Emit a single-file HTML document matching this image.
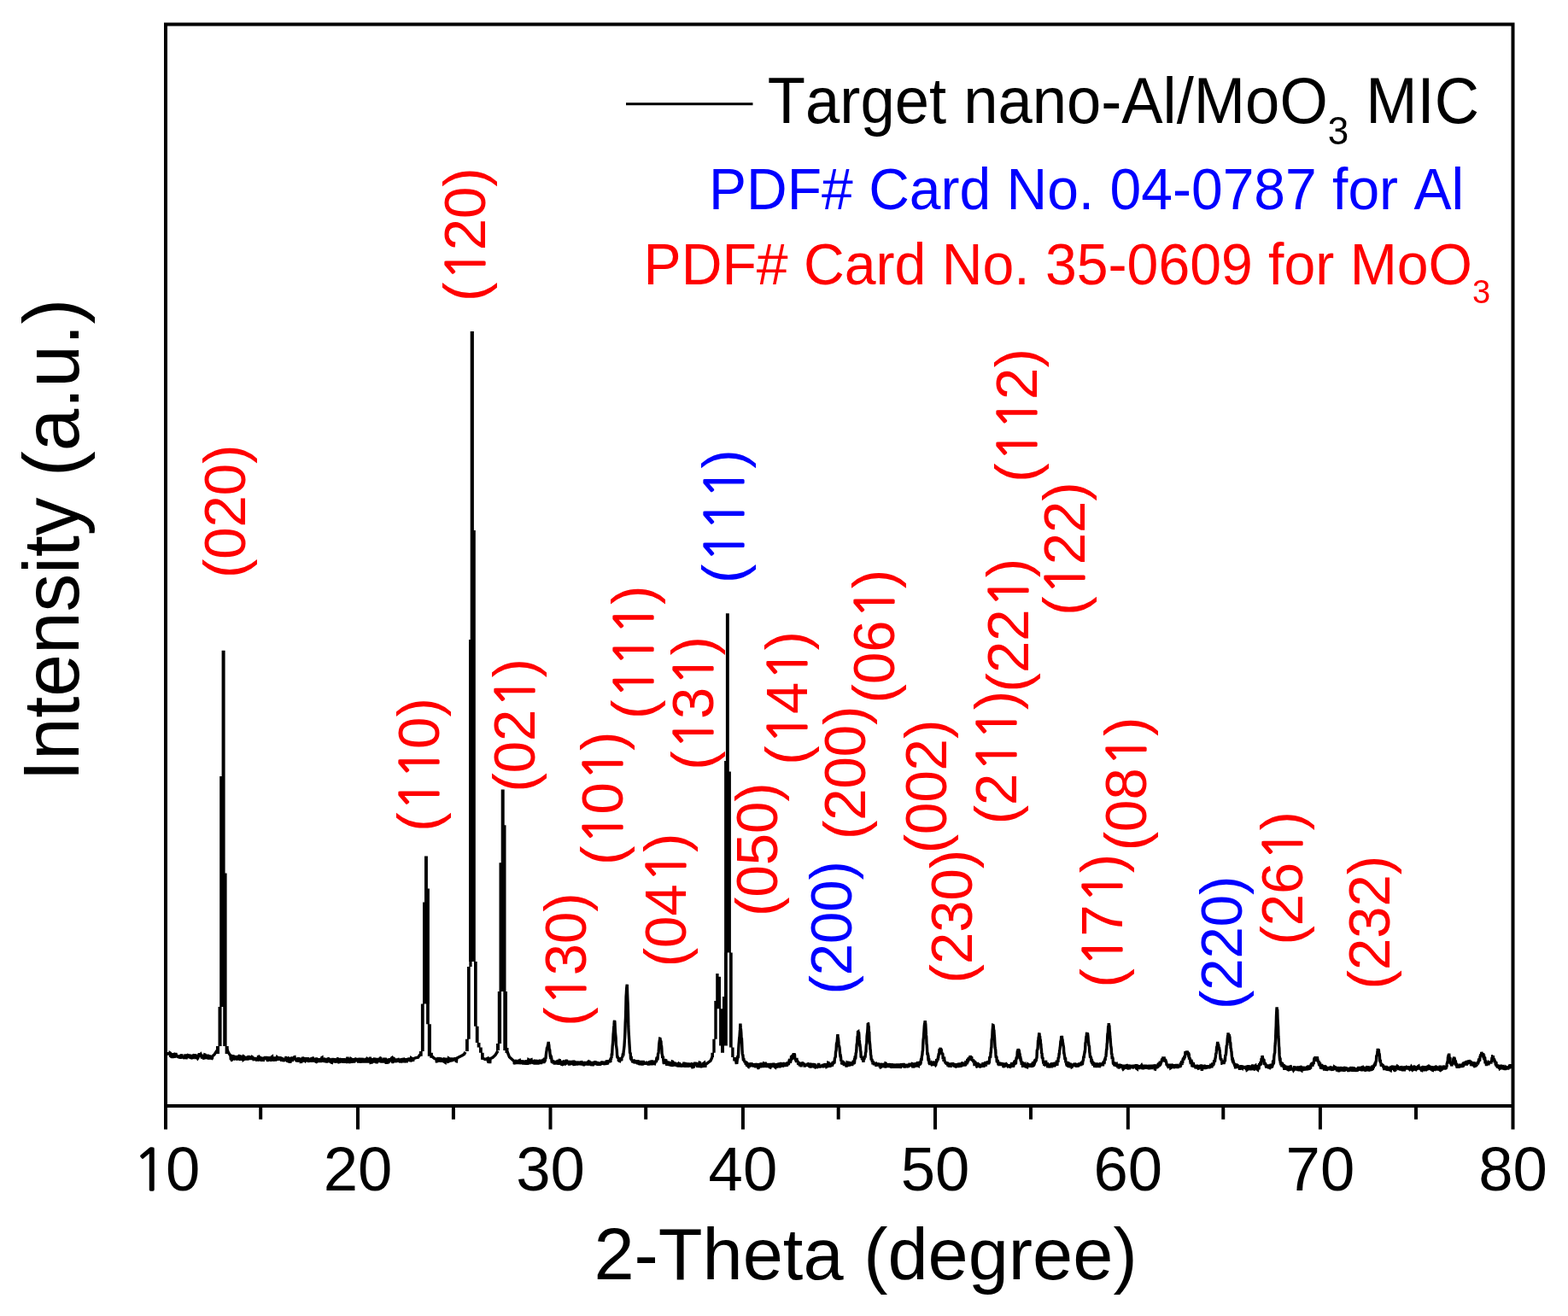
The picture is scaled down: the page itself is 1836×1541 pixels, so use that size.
<!DOCTYPE html>
<html><head><meta charset="utf-8"><style>
html,body{margin:0;padding:0;background:#fff;}
svg{display:block;}
text{font-family:"Liberation Sans",Arial,sans-serif;font-kerning:none;}
</style></head><body>
<svg width="1836" height="1541" viewBox="0 0 1836 1541">
<rect width="100%" height="100%" fill="#fff"/>
<path d="M196.0,1233.4 L196.3,1232.5 L196.6,1235.6 L196.9,1232.2 L197.2,1235.1 L197.5,1234.2 L197.8,1232.4 L198.1,1235.2 L198.4,1232.5 L198.7,1234.9 L199.0,1232.9 L199.3,1233.1 L199.6,1235.2 L199.9,1237.7 L200.2,1233.6 L200.5,1234.2 L200.8,1236.8 L201.1,1238.8 L201.4,1236.6 L201.7,1235.7 L202.0,1239.2 L202.3,1233.7 L202.6,1238.7 L202.9,1235.4 L203.2,1234.6 L203.5,1234.5 L203.8,1235.8 L204.1,1238.9 L204.4,1235.1 L204.7,1237.5 L205.0,1237.8 L205.3,1236.2 L205.6,1237.3 L205.9,1234.4 L206.2,1234.4 L206.5,1235.3 L206.8,1238.1 L207.1,1236.6 L207.4,1235.9 L207.7,1237.5 L208.0,1236.8 L208.3,1235.8 L208.6,1238.8 L208.9,1238.2 L209.2,1235.5 L209.5,1237.5 L209.8,1237.2 L210.1,1239.3 L210.4,1238.4 L210.7,1235.8 L211.0,1240.0 L211.3,1234.8 L211.6,1236.6 L211.9,1238.6 L212.2,1235.0 L212.5,1237.0 L212.8,1234.3 L213.1,1238.1 L213.4,1238.7 L213.7,1237.5 L214.0,1239.4 L214.3,1236.0 L214.6,1238.3 L214.9,1237.7 L215.2,1237.6 L215.5,1236.9 L215.8,1239.2 L216.1,1239.8 L216.4,1237.0 L216.7,1238.1 L217.0,1234.5 L217.3,1238.3 L217.6,1238.0 L217.9,1240.1 L218.2,1239.1 L218.5,1235.9 L218.8,1236.5 L219.1,1238.2 L219.4,1234.3 L219.7,1236.9 L220.0,1235.2 L220.3,1234.9 L220.6,1234.5 L220.9,1238.8 L221.2,1235.0 L221.5,1235.7 L221.8,1236.5 L222.1,1239.4 L222.4,1234.7 L222.7,1236.9 L223.0,1237.5 L223.3,1239.5 L223.6,1239.1 L223.9,1239.4 L224.2,1235.9 L224.5,1236.7 L224.8,1236.4 L225.1,1239.5 L225.4,1240.0 L225.7,1235.1 L226.0,1235.3 L226.3,1235.6 L226.6,1235.6 L226.9,1237.2 L227.2,1237.8 L227.5,1235.8 L227.8,1234.3 L228.1,1236.8 L228.4,1236.5 L228.7,1237.7 L229.0,1240.0 L229.3,1238.4 L229.6,1237.4 L229.9,1238.0 L230.2,1238.3 L230.5,1234.6 L230.8,1239.7 L231.1,1239.0 L231.4,1239.5 L231.7,1239.1 L232.0,1236.7 L232.3,1236.7 L232.6,1234.9 L232.9,1238.1 L233.2,1234.7 L233.5,1234.7 L233.8,1235.6 L234.1,1235.3 L234.4,1236.4 L234.7,1234.6 L235.0,1234.3 L235.3,1235.2 L235.6,1234.9 L235.9,1236.5 L236.2,1234.5 L236.5,1239.6 L236.8,1238.0 L237.1,1235.2 L237.4,1235.9 L237.7,1236.4 L238.0,1236.5 L238.3,1235.1 L238.6,1239.5 L238.9,1240.3 L239.2,1237.2 L239.5,1237.3 L239.8,1234.9 L240.1,1235.0 L240.4,1236.4 L240.7,1236.0 L241.0,1239.4 L241.3,1235.4 L241.6,1234.5 L241.9,1240.1 L242.2,1237.6 L242.5,1235.3 L242.8,1237.7 L243.1,1234.6 L243.4,1237.6 L243.7,1240.3 L244.0,1239.6 L244.3,1238.6 L244.6,1236.0 L244.9,1236.6 L245.2,1235.4 L245.5,1239.1 L245.8,1237.6 L246.1,1239.1 L246.4,1236.4 L246.7,1235.8 L247.0,1239.3 L247.3,1240.4 L247.6,1239.6 L247.9,1239.3 L248.2,1239.4 L248.5,1238.9 L248.8,1235.8 L249.0,1236.5 L251.0,1234.8 L253.0,1231.7 L255.5,1228.2 M265.6,1228.6 L267.5,1232.6 L270.0,1236.3 L270.3,1241.0 L270.6,1238.0 L270.9,1241.0 L271.2,1241.3 L271.5,1241.1 L271.8,1237.6 L272.1,1236.7 L272.4,1236.8 L272.7,1236.6 L273.0,1236.6 L273.3,1239.2 L273.6,1240.8 L273.9,1240.5 L274.2,1238.3 L274.5,1239.4 L274.8,1240.3 L275.1,1236.0 L275.4,1239.5 L275.7,1241.0 L276.0,1240.2 L276.3,1240.0 L276.6,1238.4 L276.9,1236.6 L277.2,1240.3 L277.5,1237.6 L277.8,1240.4 L278.1,1241.4 L278.4,1238.0 L278.7,1238.1 L279.0,1241.3 L279.3,1240.0 L279.6,1236.7 L279.9,1236.5 L280.2,1236.6 L280.5,1241.1 L280.8,1240.6 L281.1,1236.6 L281.4,1240.7 L281.7,1241.6 L282.0,1239.7 L282.3,1237.9 L282.6,1239.1 L282.9,1236.6 L283.2,1235.9 L283.5,1241.7 L283.8,1239.7 L284.1,1239.0 L284.4,1241.5 L284.7,1238.5 L285.0,1241.1 L285.3,1240.9 L285.6,1237.2 L285.9,1237.4 L286.2,1237.7 L286.5,1237.4 L286.8,1239.5 L287.1,1237.5 L287.4,1238.5 L287.7,1236.8 L288.0,1241.5 L288.3,1238.1 L288.6,1238.8 L288.9,1239.6 L289.2,1241.5 L289.5,1238.6 L289.8,1241.6 L290.1,1239.1 L290.4,1239.3 L290.7,1239.3 L291.0,1236.2 L291.3,1238.8 L291.6,1237.3 L291.9,1236.2 L292.2,1241.0 L292.5,1237.2 L292.8,1239.0 L293.1,1240.6 L293.4,1239.6 L293.7,1238.2 L294.0,1239.4 L294.3,1239.6 L294.6,1241.0 L294.9,1236.9 L295.2,1239.7 L295.5,1237.8 L295.8,1238.0 L296.1,1241.0 L296.4,1239.4 L296.7,1239.7 L297.0,1240.9 L297.3,1241.9 L297.6,1239.1 L297.9,1240.1 L298.2,1239.5 L298.5,1239.5 L298.8,1240.6 L299.1,1239.2 L299.4,1239.7 L299.7,1239.4 L300.0,1242.1 L300.3,1240.7 L300.6,1241.8 L300.9,1242.2 L301.2,1238.1 L301.5,1239.9 L301.8,1242.2 L302.1,1241.6 L302.4,1237.4 L302.7,1237.3 L303.0,1239.2 L303.3,1237.0 L303.6,1238.0 L303.9,1237.0 L304.2,1240.6 L304.5,1241.3 L304.8,1242.0 L305.1,1237.5 L305.4,1240.9 L305.7,1240.6 L306.0,1237.5 L306.3,1241.9 L306.6,1242.5 L306.9,1238.0 L307.2,1242.4 L307.5,1239.1 L307.8,1239.6 L308.1,1242.6 L308.4,1241.7 L308.7,1237.7 L309.0,1239.3 L309.3,1239.8 L309.6,1238.8 L309.9,1237.9 L310.2,1238.7 L310.5,1241.1 L310.8,1236.9 L311.1,1240.1 L311.4,1239.4 L311.7,1236.9 L312.0,1238.8 L312.3,1240.5 L312.6,1239.9 L312.9,1237.2 L313.2,1242.7 L313.5,1241.6 L313.8,1242.7 L314.1,1237.5 L314.4,1238.4 L314.7,1237.1 L315.0,1241.5 L315.3,1238.5 L315.6,1237.7 L315.9,1239.4 L316.2,1242.4 L316.5,1241.8 L316.8,1238.5 L317.1,1237.8 L317.4,1242.4 L317.7,1240.4 L318.0,1241.1 L318.3,1237.5 L318.6,1237.3 L318.9,1241.1 L319.2,1239.5 L319.5,1237.4 L319.8,1242.6 L320.1,1240.8 L320.4,1241.8 L320.7,1237.5 L321.0,1242.2 L321.3,1237.4 L321.6,1242.2 L321.9,1239.8 L322.2,1239.1 L322.5,1240.4 L322.8,1242.6 L323.1,1238.7 L323.4,1237.9 L323.7,1240.2 L324.0,1238.5 L324.3,1237.8 L324.6,1238.1 L324.9,1237.4 L325.2,1238.3 L325.5,1239.0 L325.8,1239.0 L326.1,1241.7 L326.4,1238.9 L326.7,1240.2 L327.0,1238.2 L327.3,1239.3 L327.6,1237.3 L327.9,1238.7 L328.2,1237.3 L328.5,1241.6 L328.8,1240.5 L329.1,1238.4 L329.4,1240.1 L329.7,1242.8 L330.0,1237.9 L330.3,1242.2 L330.6,1239.9 L330.9,1240.2 L331.2,1242.3 L331.5,1239.6 L331.8,1240.3 L332.1,1241.4 L332.4,1243.2 L332.7,1239.4 L333.0,1242.3 L333.3,1241.6 L333.6,1241.1 L333.9,1239.8 L334.2,1239.4 L334.5,1237.7 L334.8,1238.1 L335.1,1237.8 L335.4,1241.8 L335.7,1238.9 L336.0,1238.4 L336.3,1237.9 L336.6,1242.5 L336.9,1242.6 L337.2,1241.4 L337.5,1239.1 L337.8,1238.9 L338.1,1239.2 L338.4,1240.2 L338.7,1238.4 L339.0,1240.1 L339.3,1239.1 L339.6,1243.3 L339.9,1243.3 L340.2,1240.8 L340.5,1239.0 L340.8,1243.3 L341.1,1239.4 L341.4,1239.7 L341.7,1237.5 L342.0,1239.8 L342.3,1240.4 L342.6,1240.6 L342.9,1238.8 L343.2,1240.6 L343.5,1237.6 L343.8,1239.2 L344.1,1238.1 L344.4,1240.0 L344.7,1237.9 L345.0,1237.8 L345.3,1239.5 L345.6,1239.0 L345.9,1241.2 L346.2,1240.8 L346.5,1242.2 L346.8,1241.6 L347.1,1242.0 L347.4,1243.0 L347.7,1240.0 L348.0,1239.7 L348.3,1243.6 L348.6,1238.6 L348.9,1242.1 L349.2,1241.6 L349.5,1238.0 L349.8,1242.7 L350.1,1243.1 L350.4,1241.5 L350.7,1242.2 L351.0,1242.6 L351.3,1238.6 L351.6,1240.9 L351.9,1240.8 L352.2,1242.8 L352.5,1242.6 L352.8,1242.8 L353.1,1241.3 L353.4,1243.2 L353.7,1241.9 L354.0,1242.0 L354.3,1239.2 L354.6,1238.0 L354.9,1238.7 L355.2,1240.0 L355.5,1238.5 L355.8,1242.9 L356.1,1241.2 L356.4,1241.7 L356.7,1241.7 L357.0,1242.0 L357.3,1240.9 L357.6,1238.0 L357.9,1242.7 L358.2,1242.4 L358.5,1241.0 L358.8,1241.2 L359.1,1241.9 L359.4,1238.4 L359.7,1242.4 L360.0,1239.5 L360.3,1238.4 L360.6,1239.6 L360.9,1242.4 L361.2,1239.3 L361.5,1242.5 L361.8,1243.9 L362.1,1241.0 L362.4,1240.3 L362.7,1240.9 L363.0,1242.2 L363.3,1242.7 L363.6,1241.8 L363.9,1241.9 L364.2,1238.6 L364.5,1239.0 L364.8,1239.6 L365.1,1242.6 L365.4,1240.0 L365.7,1241.5 L366.0,1238.2 L366.3,1238.5 L366.6,1239.8 L366.9,1242.2 L367.2,1242.3 L367.5,1242.2 L367.8,1239.9 L368.1,1241.3 L368.4,1241.0 L368.7,1241.0 L369.0,1238.9 L369.3,1243.6 L369.6,1239.4 L369.9,1244.1 L370.2,1243.9 L370.5,1238.4 L370.8,1241.0 L371.1,1243.2 L371.4,1244.1 L371.7,1241.0 L372.0,1239.9 L372.3,1239.6 L372.6,1244.0 L372.9,1239.6 L373.2,1241.8 L373.5,1239.2 L373.8,1241.5 L374.1,1244.1 L374.4,1239.1 L374.7,1243.3 L375.0,1241.4 L375.3,1243.7 L375.6,1242.6 L375.9,1239.8 L376.2,1243.8 L376.5,1241.3 L376.8,1238.6 L377.1,1238.4 L377.4,1241.4 L377.7,1241.1 L378.0,1240.3 L378.3,1239.3 L378.6,1240.5 L378.9,1240.4 L379.2,1243.5 L379.5,1238.5 L379.8,1243.0 L380.1,1243.5 L380.4,1239.2 L380.7,1244.1 L381.0,1242.8 L381.3,1243.9 L381.6,1240.3 L381.9,1240.8 L382.2,1240.9 L382.5,1244.5 L382.8,1242.1 L383.1,1240.7 L383.4,1241.1 L383.7,1240.2 L384.0,1238.9 L384.3,1239.2 L384.6,1243.6 L384.9,1240.3 L385.2,1244.2 L385.5,1240.1 L385.8,1240.2 L386.1,1241.7 L386.4,1239.8 L386.7,1240.9 L387.0,1244.4 L387.3,1244.0 L387.6,1243.6 L387.9,1242.5 L388.2,1244.2 L388.5,1244.3 L388.8,1242.0 L389.1,1243.0 L389.4,1239.0 L389.7,1243.1 L390.0,1241.4 L390.3,1243.3 L390.6,1242.6 L390.9,1240.5 L391.2,1239.1 L391.5,1244.3 L391.8,1239.6 L392.1,1241.6 L392.4,1240.9 L392.7,1240.6 L393.0,1243.3 L393.3,1244.7 L393.6,1240.4 L393.9,1242.8 L394.2,1240.7 L394.5,1242.2 L394.8,1241.2 L395.1,1239.9 L395.4,1239.8 L395.7,1240.1 L396.0,1244.3 L396.3,1241.9 L396.6,1240.2 L396.9,1244.4 L397.2,1244.9 L397.5,1241.6 L397.8,1239.8 L398.1,1240.1 L398.4,1239.5 L398.7,1241.0 L399.0,1239.5 L399.3,1240.4 L399.6,1240.5 L399.9,1242.4 L400.2,1244.3 L400.5,1243.5 L400.8,1241.5 L401.1,1241.5 L401.4,1242.1 L401.7,1241.2 L402.0,1241.0 L402.3,1239.3 L402.6,1240.6 L402.9,1244.8 L403.2,1239.7 L403.5,1242.0 L403.8,1242.7 L404.1,1244.1 L404.4,1240.3 L404.7,1240.6 L405.0,1240.5 L405.3,1241.4 L405.6,1241.6 L405.9,1244.7 L406.2,1244.0 L406.5,1244.2 L406.8,1239.1 L407.1,1239.1 L407.4,1243.2 L407.7,1244.3 L408.0,1241.8 L408.3,1242.5 L408.6,1238.9 L408.9,1241.3 L409.2,1244.5 L409.5,1243.9 L409.8,1244.1 L410.1,1244.8 L410.4,1240.4 L410.7,1239.6 L411.0,1239.8 L411.3,1242.1 L411.6,1243.0 L411.9,1244.6 L412.2,1243.2 L412.5,1242.8 L412.8,1243.5 L413.1,1241.7 L413.4,1242.2 L413.7,1239.1 L414.0,1243.6 L414.3,1240.3 L414.6,1244.4 L414.9,1242.8 L415.2,1240.7 L415.5,1239.7 L415.8,1240.4 L416.1,1242.7 L416.4,1243.1 L416.7,1239.6 L417.0,1239.3 L417.3,1242.0 L417.6,1242.4 L417.9,1241.2 L418.2,1240.2 L418.5,1242.5 L418.8,1238.9 L419.1,1240.7 L419.4,1241.6 L419.7,1244.6 L420.0,1242.7 L420.3,1244.2 L420.6,1241.7 L420.9,1240.3 L421.2,1240.3 L421.5,1244.6 L421.8,1243.1 L422.1,1240.7 L422.4,1239.0 L422.7,1241.8 L423.0,1242.9 L423.3,1241.4 L423.6,1240.4 L423.9,1242.8 L424.2,1244.4 L424.5,1240.2 L424.8,1239.0 L425.1,1240.9 L425.4,1241.4 L425.7,1242.9 L426.0,1240.0 L426.3,1243.6 L426.6,1243.3 L426.9,1241.9 L427.2,1240.1 L427.5,1244.6 L427.8,1240.7 L428.1,1243.7 L428.4,1240.2 L428.7,1240.1 L429.0,1243.4 L429.3,1240.6 L429.6,1244.5 L429.9,1241.8 L430.2,1239.9 L430.5,1240.1 L430.8,1241.3 L431.1,1242.8 L431.4,1244.5 L431.7,1239.7 L432.0,1241.2 L432.3,1240.1 L432.6,1244.6 L432.9,1239.6 L433.2,1239.1 L433.5,1239.1 L433.8,1241.1 L434.1,1244.2 L434.4,1244.1 L434.7,1243.2 L435.0,1244.8 L435.3,1244.4 L435.6,1240.7 L435.9,1239.9 L436.2,1244.4 L436.5,1243.2 L436.8,1239.0 L437.1,1242.7 L437.4,1241.0 L437.7,1241.0 L438.0,1240.7 L438.3,1239.8 L438.6,1238.8 L438.9,1240.4 L439.2,1240.9 L439.5,1244.5 L439.8,1239.5 L440.1,1244.5 L440.4,1240.0 L440.7,1240.9 L441.0,1243.7 L441.3,1243.7 L441.6,1241.3 L441.9,1239.0 L442.2,1241.6 L442.5,1241.0 L442.8,1244.2 L443.1,1239.9 L443.4,1240.9 L443.7,1244.1 L444.0,1238.9 L444.3,1241.2 L444.6,1243.6 L444.9,1243.3 L445.2,1239.0 L445.5,1238.9 L445.8,1239.1 L446.1,1244.2 L446.4,1240.2 L446.7,1243.2 L447.0,1244.1 L447.3,1240.7 L447.6,1240.3 L447.9,1244.4 L448.2,1242.4 L448.5,1240.3 L448.8,1243.0 L449.1,1240.6 L449.4,1240.3 L449.7,1238.7 L450.0,1243.2 L450.3,1244.2 L450.6,1242.5 L450.9,1244.3 L451.2,1238.8 L451.5,1240.1 L451.8,1241.5 L452.1,1244.4 L452.4,1244.4 L452.7,1241.0 L453.0,1240.2 L453.3,1241.2 L453.6,1241.6 L453.9,1244.2 L454.2,1239.7 L454.5,1243.5 L454.8,1243.1 L455.1,1243.6 L455.4,1243.3 L455.7,1242.3 L456.0,1240.6 L456.3,1240.6 L456.6,1240.8 L456.9,1243.3 L457.2,1239.1 L457.5,1239.8 L457.8,1243.1 L458.1,1240.1 L458.4,1239.0 L458.7,1238.8 L459.0,1241.9 L459.3,1240.6 L459.6,1244.5 L459.9,1243.9 L460.2,1244.5 L460.5,1240.2 L460.8,1239.1 L461.1,1239.2 L461.4,1241.6 L461.7,1242.9 L462.0,1241.3 L462.3,1240.0 L462.6,1241.1 L462.9,1242.3 L463.2,1242.6 L463.5,1243.1 L463.8,1243.7 L464.1,1242.6 L464.4,1239.3 L464.7,1243.6 L465.0,1240.3 L465.3,1242.0 L465.6,1240.8 L465.9,1243.0 L466.2,1239.8 L466.5,1240.1 L466.8,1240.0 L467.1,1239.5 L467.4,1243.9 L467.7,1242.0 L468.0,1240.5 L468.3,1240.9 L468.6,1244.5 L468.9,1241.6 L469.2,1239.9 L469.5,1243.4 L469.8,1242.5 L470.1,1244.5 L470.4,1239.2 L470.7,1241.4 L471.0,1243.5 L471.3,1243.6 L471.6,1244.0 L471.9,1238.8 L472.2,1240.3 L472.5,1239.2 L472.8,1239.7 L473.1,1244.4 L473.4,1242.0 L473.7,1244.1 L474.0,1240.8 L474.3,1243.7 L474.6,1241.2 L474.9,1240.1 L475.2,1243.2 L475.5,1244.2 L475.8,1239.1 L476.1,1242.1 L476.4,1242.2 L476.7,1239.8 L477.0,1240.7 L477.3,1239.4 L477.6,1239.7 L477.9,1240.0 L478.2,1242.1 L478.5,1242.4 L478.8,1239.7 L479.1,1238.6 L479.4,1240.5 L479.7,1242.6 L480.0,1239.6 L480.3,1240.4 L480.6,1239.7 L480.9,1243.3 L481.2,1241.8 L481.5,1238.9 L481.8,1239.1 L482.1,1240.8 L482.4,1241.8 L482.7,1242.3 L483.0,1239.0 L483.3,1239.4 L483.6,1242.6 L483.9,1240.9 L484.0,1239.7 L487.0,1238.7 L489.5,1238.2 L492.0,1234.7 M506.0,1237.1 L508.5,1239.3 L511.0,1240.4 L511.3,1243.4 L511.6,1244.2 L511.9,1240.4 L512.2,1239.4 L512.5,1242.6 L512.8,1239.4 L513.1,1238.2 L513.4,1243.6 L513.7,1240.7 L514.0,1243.1 L514.3,1240.6 L514.6,1243.5 L514.9,1241.0 L515.2,1239.2 L515.5,1238.3 L515.8,1241.5 L516.1,1242.0 L516.4,1243.6 L516.7,1238.7 L517.0,1241.9 L517.3,1240.4 L517.6,1241.2 L517.9,1239.0 L518.2,1239.9 L518.5,1241.3 L518.8,1243.7 L519.1,1238.8 L519.4,1241.1 L519.7,1243.0 L520.0,1244.0 L520.3,1239.3 L520.6,1238.9 L520.9,1243.8 L521.2,1244.0 L521.5,1241.0 L521.8,1238.5 L522.1,1243.7 L522.4,1240.5 L522.7,1243.6 L523.0,1241.8 L523.3,1243.1 L523.6,1239.1 L523.9,1242.8 L524.2,1239.4 L524.5,1240.5 L524.8,1243.2 L525.1,1243.1 L525.4,1239.2 L525.7,1239.4 L526.0,1240.5 L526.3,1241.2 L526.6,1240.4 L526.9,1238.8 L527.2,1239.6 L527.5,1242.4 L527.8,1243.5 L528.1,1238.3 L528.4,1241.5 L528.7,1242.6 L529.0,1238.3 L529.3,1243.1 L529.6,1238.8 L529.9,1241.7 L530.2,1241.4 L530.5,1241.8 L530.8,1239.9 L531.1,1240.6 L531.4,1241.5 L531.7,1240.6 L532.0,1242.0 L532.3,1240.7 L532.6,1240.7 L532.9,1238.2 L533.2,1241.8 L533.5,1241.0 L533.8,1239.4 L534.1,1242.6 L534.4,1242.7 L534.7,1240.8 L535.0,1239.1 L535.0,1239.0 L538.0,1237.4 L541.0,1235.9 L543.5,1234.4 L545.0,1231.8 M565.0,1238.9 L568.0,1240.5 L571.0,1239.3 L571.3,1243.1 L571.6,1239.8 L571.9,1243.7 L572.2,1244.0 L572.5,1242.4 L572.8,1239.7 L573.1,1242.4 L573.4,1241.6 L573.7,1245.1 L574.0,1240.2 L574.0,1239.6 L577.0,1238.3 L580.0,1235.4 L583.0,1230.5 M594.0,1231.5 L596.5,1237.8 L599.0,1240.0 L602.0,1242.7 L602.3,1246.0 L602.6,1241.5 L602.9,1245.2 L603.2,1246.1 L603.5,1240.9 L603.8,1242.6 L604.1,1245.1 L604.4,1241.5 L604.7,1245.9 L605.0,1242.2 L605.3,1245.4 L605.6,1241.4 L605.9,1243.6 L606.2,1246.1 L606.5,1241.8 L606.8,1242.2 L607.1,1243.6 L607.4,1242.5 L607.7,1240.8 L608.0,1241.7 L608.3,1241.6 L608.6,1246.2 L608.9,1244.7 L609.2,1246.0 L609.5,1241.6 L609.8,1245.3 L610.1,1241.3 L610.4,1243.8 L610.7,1244.5 L611.0,1242.8 L611.3,1245.9 L611.6,1244.0 L611.9,1244.2 L612.2,1246.0 L612.5,1241.3 L612.8,1246.6 L613.1,1244.5 L613.4,1243.1 L613.7,1245.5 L614.0,1242.3 L614.3,1246.7 L614.6,1244.2 L614.9,1242.9 L615.2,1245.3 L615.5,1243.4 L615.8,1241.8 L616.1,1245.2 L616.4,1241.0 L616.7,1245.7 L617.0,1242.3 L617.3,1244.6 L617.6,1246.7 L617.9,1244.3 L618.2,1244.8 L618.5,1242.7 L618.8,1240.8 L619.1,1241.0 L619.4,1241.7 L619.7,1244.5 L620.0,1243.4 L620.3,1243.9 L620.6,1246.2 L620.9,1241.6 L621.2,1242.2 L621.5,1244.7 L621.8,1240.9 L622.1,1240.8 L622.4,1242.9 L622.7,1241.5 L623.0,1243.0 L623.3,1242.2 L623.6,1244.3 L623.9,1244.4 L624.2,1242.1 L624.5,1244.6 L624.8,1243.7 L625.1,1241.6 L625.4,1246.4 L625.7,1242.3 L626.0,1241.7 L626.3,1241.4 L626.6,1244.7 L626.9,1246.0 L627.2,1245.5 L627.5,1243.2 L627.8,1242.4 L628.1,1240.9 L628.4,1244.7 L628.7,1244.2 L629.0,1242.9 L629.3,1244.6 L629.6,1243.4 L629.9,1246.4 L630.2,1245.1 L630.5,1242.2 L630.8,1246.1 L631.1,1241.0 L631.4,1243.9 L631.7,1243.1 L632.0,1242.1 L632.3,1241.0 L632.6,1245.3 L632.9,1240.6 L633.2,1243.8 L633.5,1246.1 L633.8,1241.3 L634.1,1241.6 L634.4,1244.0 L634.7,1243.3 L635.0,1244.0 L635.3,1245.0 L635.6,1241.1 L635.9,1241.7 L636.2,1241.6 L636.5,1239.9 L636.8,1244.7 L637.1,1243.8 L637.4,1243.1 L637.7,1238.5 L638.0,1243.0 L638.3,1241.8 L638.6,1239.3 L638.9,1239.9 L639.2,1237.0 L639.5,1234.1 L639.8,1231.7 L640.1,1230.5 L640.4,1227.2 L640.7,1226.7 L641.0,1227.0 L641.3,1224.7 L641.6,1224.1 L641.9,1222.6 L642.2,1220.0 L642.5,1222.8 L642.8,1223.8 L643.1,1228.0 L643.4,1228.6 L643.7,1229.3 L644.0,1233.7 L644.3,1237.5 L644.6,1234.7 L644.9,1240.1 L645.2,1236.1 L645.5,1238.5 L645.8,1239.1 L646.1,1242.8 L646.4,1244.4 L646.7,1243.6 L647.0,1241.4 L647.3,1245.0 L647.6,1241.9 L647.9,1241.5 L648.2,1245.6 L648.5,1244.1 L648.8,1244.6 L649.1,1244.5 L649.4,1246.5 L649.7,1243.5 L650.0,1245.8 L650.3,1245.0 L650.6,1246.0 L650.9,1243.5 L651.2,1245.3 L651.5,1244.4 L651.8,1242.9 L652.1,1242.3 L652.4,1244.8 L652.7,1241.6 L653.0,1246.6 L653.3,1242.1 L653.6,1241.4 L653.9,1241.9 L654.2,1246.8 L654.5,1243.4 L654.8,1242.2 L655.1,1241.5 L655.4,1241.6 L655.7,1245.5 L656.0,1245.2 L656.3,1245.6 L656.6,1245.9 L656.9,1241.8 L657.2,1245.0 L657.5,1243.7 L657.8,1246.4 L658.1,1246.4 L658.4,1246.9 L658.7,1241.9 L659.0,1246.8 L659.3,1247.0 L659.6,1247.2 L659.9,1242.2 L660.2,1242.8 L660.5,1242.3 L660.8,1241.8 L661.1,1246.7 L661.4,1246.5 L661.7,1245.5 L662.0,1246.6 L662.3,1245.5 L662.6,1243.4 L662.9,1242.3 L663.2,1242.3 L663.5,1246.3 L663.8,1242.9 L664.1,1243.6 L664.4,1244.3 L664.7,1241.9 L665.0,1243.3 L665.3,1243.5 L665.6,1246.1 L665.9,1244.0 L666.2,1243.7 L666.5,1247.6 L666.8,1244.8 L667.1,1246.9 L667.4,1245.5 L667.7,1242.0 L668.0,1244.3 L668.3,1244.5 L668.6,1246.5 L668.9,1243.9 L669.2,1246.1 L669.5,1245.1 L669.8,1243.2 L670.1,1247.1 L670.4,1242.4 L670.7,1246.8 L671.0,1242.9 L671.3,1241.9 L671.6,1243.1 L671.9,1246.5 L672.2,1247.8 L672.5,1242.0 L672.8,1244.9 L673.1,1244.9 L673.4,1246.7 L673.7,1243.1 L674.0,1244.9 L674.3,1244.1 L674.6,1247.0 L674.9,1243.6 L675.2,1247.7 L675.5,1243.7 L675.8,1243.3 L676.1,1246.2 L676.4,1245.0 L676.7,1242.7 L677.0,1245.9 L677.3,1242.5 L677.6,1246.8 L677.9,1246.2 L678.2,1246.8 L678.5,1245.8 L678.8,1244.2 L679.1,1244.5 L679.4,1244.5 L679.7,1247.4 L680.0,1242.6 L680.3,1247.4 L680.6,1242.3 L680.9,1243.3 L681.2,1243.7 L681.5,1247.5 L681.8,1245.1 L682.1,1244.4 L682.4,1247.4 L682.7,1243.5 L683.0,1244.9 L683.3,1245.3 L683.6,1246.7 L683.9,1246.7 L684.2,1246.0 L684.5,1244.3 L684.8,1244.1 L685.1,1243.1 L685.4,1247.2 L685.7,1246.2 L686.0,1246.7 L686.3,1243.2 L686.6,1244.8 L686.9,1246.9 L687.2,1245.7 L687.5,1243.0 L687.8,1245.0 L688.1,1247.5 L688.4,1243.7 L688.7,1243.4 L689.0,1244.0 L689.3,1246.5 L689.6,1247.3 L689.9,1243.2 L690.2,1243.2 L690.5,1243.7 L690.8,1244.2 L691.1,1245.4 L691.4,1243.2 L691.7,1244.2 L692.0,1243.4 L692.3,1248.1 L692.6,1246.6 L692.9,1242.8 L693.2,1248.0 L693.5,1242.8 L693.8,1244.5 L694.1,1248.1 L694.4,1247.0 L694.7,1246.6 L695.0,1244.8 L695.3,1243.4 L695.6,1246.0 L695.9,1242.8 L696.2,1243.4 L696.5,1244.5 L696.8,1242.3 L697.1,1244.5 L697.4,1246.9 L697.7,1246.3 L698.0,1245.1 L698.3,1245.9 L698.6,1244.9 L698.9,1242.9 L699.2,1245.7 L699.5,1244.5 L699.8,1246.5 L700.1,1247.5 L700.4,1244.6 L700.7,1245.5 L701.0,1246.5 L701.3,1244.5 L701.6,1243.4 L701.9,1246.3 L702.2,1247.2 L702.5,1246.6 L702.8,1246.1 L703.1,1247.0 L703.4,1246.0 L703.7,1245.7 L704.0,1244.6 L704.3,1243.7 L704.6,1245.6 L704.9,1242.4 L705.2,1244.3 L705.5,1246.5 L705.8,1246.0 L706.1,1245.5 L706.4,1243.2 L706.7,1244.2 L707.0,1244.4 L707.3,1245.3 L707.6,1244.0 L707.9,1245.6 L708.2,1247.1 L708.5,1242.5 L708.8,1245.3 L709.1,1246.0 L709.4,1243.6 L709.7,1244.1 L710.0,1247.0 L710.3,1241.3 L710.6,1244.3 L710.9,1241.9 L711.2,1245.5 L711.5,1246.4 L711.8,1243.7 L712.1,1241.1 L712.4,1243.8 L712.7,1243.4 L713.0,1244.3 L713.3,1242.9 L713.6,1243.4 L713.9,1244.3 L714.2,1242.1 L714.5,1241.0 L714.8,1243.8 L715.1,1238.8 L715.4,1240.8 L715.7,1238.1 L716.0,1239.0 L716.3,1233.5 L716.6,1236.5 L716.9,1230.1 L717.2,1225.0 L717.5,1222.3 L717.8,1218.5 L718.1,1211.1 L718.4,1208.3 L718.7,1203.3 L719.0,1200.7 L719.3,1196.1 L719.6,1195.1 L719.9,1196.7 L720.2,1203.5 L720.5,1209.5 L720.8,1212.2 L721.1,1215.4 L721.4,1223.6 L721.7,1225.2 L722.0,1227.6 L722.3,1229.9 L722.6,1236.0 L722.9,1237.9 L723.2,1238.2 L723.5,1238.2 L723.8,1239.5 L724.1,1238.0 L724.4,1242.8 L724.7,1239.4 L725.0,1241.3 L725.3,1242.5 L725.6,1242.6 L725.9,1240.5 L726.2,1239.5 L726.5,1240.9 L726.8,1238.3 L727.1,1242.4 L727.4,1239.3 L727.7,1242.0 L728.0,1238.2 L728.3,1238.5 L728.6,1237.3 L728.9,1237.7 L729.2,1235.5 L729.5,1233.4 L729.8,1236.5 L730.1,1232.2 L730.4,1229.8 L730.7,1227.2 L731.0,1224.6 L731.3,1219.6 L731.6,1215.0 L731.9,1208.0 L732.2,1197.9 L732.5,1192.0 L732.8,1181.6 L733.1,1167.0 L733.4,1163.0 L733.7,1157.4 L734.0,1154.5 L734.3,1152.8 L734.6,1163.1 L734.9,1170.6 L735.2,1176.7 L735.5,1186.7 L735.8,1201.7 L736.1,1208.2 L736.4,1212.9 L736.7,1217.9 L737.0,1222.9 L737.3,1227.3 L737.6,1233.4 L737.9,1233.1 L738.2,1233.6 L738.5,1239.5 L738.8,1239.8 L739.1,1236.9 L739.4,1241.9 L739.7,1240.8 L740.0,1242.3 L740.3,1242.0 L740.6,1243.7 L740.9,1243.4 L741.2,1244.0 L741.5,1240.4 L741.8,1243.6 L742.1,1242.8 L742.4,1244.2 L742.7,1242.6 L743.0,1245.4 L743.3,1243.6 L743.6,1241.9 L743.9,1241.9 L744.2,1241.4 L744.5,1243.6 L744.8,1241.1 L745.1,1243.6 L745.4,1241.8 L745.7,1243.9 L746.0,1244.0 L746.3,1244.3 L746.6,1246.3 L746.9,1241.2 L747.2,1246.3 L747.5,1244.1 L747.8,1244.7 L748.1,1245.4 L748.4,1246.4 L748.7,1243.7 L749.0,1244.0 L749.3,1247.3 L749.6,1242.0 L749.9,1245.4 L750.2,1245.4 L750.5,1241.8 L750.8,1245.3 L751.1,1245.7 L751.4,1247.2 L751.7,1243.6 L752.0,1247.6 L752.3,1244.8 L752.6,1244.6 L752.9,1247.1 L753.2,1241.9 L753.5,1246.1 L753.8,1245.5 L754.1,1243.8 L754.4,1246.9 L754.7,1244.0 L755.0,1244.6 L755.3,1244.9 L755.6,1246.4 L755.9,1243.1 L756.2,1244.4 L756.5,1244.3 L756.8,1245.1 L757.1,1246.8 L757.4,1243.6 L757.7,1246.8 L758.0,1244.2 L758.3,1244.8 L758.6,1243.4 L758.9,1244.8 L759.2,1247.6 L759.5,1245.7 L759.8,1246.5 L760.1,1243.7 L760.4,1243.6 L760.7,1243.5 L761.0,1245.3 L761.3,1245.5 L761.6,1246.4 L761.9,1242.0 L762.2,1246.0 L762.5,1247.0 L762.8,1244.9 L763.1,1241.9 L763.4,1243.4 L763.7,1241.6 L764.0,1242.7 L764.3,1247.0 L764.6,1245.1 L764.9,1245.4 L765.2,1246.1 L765.5,1246.8 L765.8,1244.9 L766.1,1244.8 L766.4,1244.8 L766.7,1245.1 L767.0,1244.3 L767.3,1244.7 L767.6,1241.6 L767.9,1244.1 L768.2,1242.5 L768.5,1243.9 L768.8,1239.4 L769.1,1239.2 L769.4,1237.5 L769.7,1240.8 L770.0,1240.3 L770.3,1237.1 L770.6,1233.5 L770.9,1233.9 L771.2,1231.2 L771.5,1227.1 L771.8,1222.4 L772.1,1220.0 L772.4,1218.4 L772.7,1216.2 L773.0,1216.3 L773.3,1218.1 L773.6,1221.5 L773.9,1218.5 L774.2,1224.4 L774.5,1224.1 L774.8,1227.3 L775.1,1234.0 L775.4,1234.9 L775.7,1239.0 L776.0,1237.8 L776.3,1236.6 L776.6,1239.9 L776.9,1242.1 L777.2,1244.8 L777.5,1245.7 L777.8,1243.1 L778.1,1243.0 L778.4,1241.5 L778.7,1245.0 L779.0,1242.6 L779.3,1242.4 L779.6,1241.7 L779.9,1241.8 L780.2,1246.0 L780.5,1242.7 L780.8,1247.9 L781.1,1242.7 L781.4,1247.4 L781.7,1243.1 L782.0,1242.5 L782.3,1246.7 L782.6,1243.9 L782.9,1246.9 L783.2,1243.7 L783.5,1242.9 L783.8,1247.3 L784.1,1247.0 L784.4,1247.9 L784.7,1247.2 L785.0,1243.3 L785.3,1246.6 L785.6,1247.2 L785.9,1245.7 L786.2,1248.6 L786.5,1244.5 L786.8,1248.8 L787.1,1247.4 L787.4,1243.1 L787.7,1243.2 L788.0,1247.0 L788.3,1248.1 L788.6,1243.6 L788.9,1245.1 L789.2,1247.6 L789.5,1244.2 L789.8,1248.4 L790.1,1246.2 L790.4,1243.7 L790.7,1245.5 L791.0,1246.8 L791.3,1246.0 L791.6,1247.4 L791.9,1244.3 L792.2,1248.2 L792.5,1245.6 L792.8,1247.3 L793.1,1247.2 L793.4,1246.0 L793.7,1245.8 L794.0,1248.2 L794.3,1249.2 L794.6,1248.2 L794.9,1247.0 L795.2,1245.3 L795.5,1244.0 L795.8,1249.4 L796.1,1247.8 L796.4,1248.6 L796.7,1245.6 L797.0,1247.3 L797.3,1249.5 L797.6,1248.7 L797.9,1247.3 L798.2,1245.6 L798.5,1246.3 L798.8,1249.1 L799.1,1246.0 L799.4,1247.9 L799.7,1247.4 L800.0,1249.2 L800.3,1248.7 L800.6,1245.5 L800.9,1243.8 L801.2,1245.4 L801.5,1246.4 L801.8,1247.4 L802.1,1248.7 L802.4,1249.2 L802.7,1244.1 L803.0,1248.9 L803.3,1248.7 L803.6,1249.1 L803.9,1247.3 L804.2,1245.5 L804.5,1249.0 L804.8,1248.7 L805.1,1248.0 L805.4,1249.4 L805.7,1246.0 L806.0,1244.4 L806.3,1247.2 L806.6,1248.7 L806.9,1245.1 L807.2,1248.4 L807.5,1249.5 L807.8,1245.3 L808.1,1247.6 L808.4,1248.0 L808.7,1246.7 L809.0,1245.2 L809.3,1245.5 L809.6,1248.5 L809.9,1248.7 L810.2,1246.7 L810.5,1244.5 L810.8,1248.8 L811.1,1248.6 L811.4,1245.4 L811.7,1247.4 L812.0,1249.4 L812.3,1249.3 L812.6,1247.1 L812.9,1246.8 L813.2,1247.5 L813.5,1245.1 L813.8,1245.1 L814.1,1245.1 L814.4,1248.2 L814.7,1246.2 L815.0,1247.4 L815.3,1246.4 L815.6,1247.1 L815.9,1244.9 L816.2,1244.3 L816.5,1250.0 L816.8,1246.3 L817.1,1244.7 L817.4,1247.8 L817.7,1248.8 L818.0,1245.0 L818.3,1247.6 L818.6,1246.1 L818.9,1247.2 L819.2,1244.2 L819.5,1244.3 L819.8,1250.0 L820.1,1249.3 L820.4,1247.0 L820.7,1247.5 L821.0,1245.6 L821.3,1248.7 L821.6,1246.6 L821.9,1249.8 L822.2,1248.7 L822.5,1249.0 L822.8,1249.9 L823.1,1245.6 L823.4,1244.3 L823.7,1245.3 L824.0,1245.2 L824.3,1244.6 L824.6,1244.4 L824.9,1247.5 L825.2,1249.3 L825.5,1246.9 L825.8,1249.8 L826.0,1246.7 L829.0,1244.3 L832.0,1242.2 L834.0,1237.8 M860.0,1240.4 L861.5,1239.7 L861.8,1243.0 L862.1,1244.5 L862.4,1244.5 L862.7,1245.8 L863.0,1243.3 L863.3,1240.6 L863.6,1239.6 L863.9,1236.1 L864.2,1238.7 L864.5,1236.1 L864.8,1228.1 L865.1,1223.1 L865.4,1219.8 L865.7,1215.5 L866.0,1213.8 L866.3,1209.1 L866.6,1205.2 L866.9,1198.6 L867.2,1203.4 L867.5,1205.4 L867.8,1209.1 L868.1,1215.9 L868.4,1215.4 L868.7,1220.8 L869.0,1228.8 L869.3,1233.7 L869.6,1235.3 L869.9,1235.6 L870.2,1239.4 L870.5,1242.0 L870.8,1239.3 L871.1,1241.6 L871.4,1241.9 L871.7,1241.6 L872.0,1244.2 L872.3,1242.7 L872.6,1243.4 L872.9,1243.1 L873.2,1246.5 L873.5,1242.7 L873.8,1247.1 L874.1,1244.1 L874.4,1243.3 L874.7,1248.8 L875.0,1244.6 L875.3,1249.0 L875.6,1248.7 L875.9,1248.9 L876.2,1244.5 L876.5,1246.4 L876.8,1244.3 L877.1,1249.4 L877.4,1248.9 L877.7,1247.7 L878.0,1246.7 L878.3,1246.0 L878.6,1249.0 L878.9,1246.9 L879.2,1247.9 L879.5,1245.0 L879.8,1245.5 L880.1,1244.5 L880.4,1248.5 L880.7,1247.5 L881.0,1245.1 L881.3,1249.5 L881.6,1245.9 L881.9,1246.8 L882.2,1245.3 L882.5,1246.0 L882.8,1249.4 L883.1,1246.4 L883.4,1245.4 L883.7,1247.3 L884.0,1246.3 L884.3,1249.8 L884.6,1245.1 L884.9,1250.3 L885.2,1244.8 L885.5,1249.8 L885.8,1248.5 L886.1,1245.8 L886.4,1247.4 L886.7,1246.2 L887.0,1246.1 L887.3,1245.7 L887.6,1246.7 L887.9,1250.5 L888.2,1250.5 L888.5,1250.1 L888.8,1245.2 L889.1,1246.3 L889.4,1250.0 L889.7,1244.9 L890.0,1249.0 L890.3,1246.4 L890.6,1250.5 L890.9,1244.7 L891.2,1249.5 L891.5,1246.7 L891.8,1245.5 L892.1,1244.6 L892.4,1249.6 L892.7,1247.8 L893.0,1245.8 L893.3,1247.3 L893.6,1250.1 L893.9,1246.0 L894.2,1248.1 L894.5,1245.5 L894.8,1245.7 L895.1,1249.3 L895.4,1248.9 L895.7,1245.9 L896.0,1245.2 L896.3,1245.2 L896.6,1248.3 L896.9,1247.7 L897.2,1246.3 L897.5,1245.9 L897.8,1248.4 L898.1,1248.9 L898.4,1249.6 L898.7,1248.2 L899.0,1245.9 L899.3,1245.1 L899.6,1249.1 L899.9,1247.2 L900.2,1249.0 L900.5,1245.0 L900.8,1249.6 L901.1,1246.7 L901.4,1249.8 L901.7,1249.9 L902.0,1247.7 L902.3,1244.8 L902.6,1250.2 L902.9,1247.6 L903.2,1249.9 L903.5,1246.3 L903.8,1245.8 L904.1,1249.7 L904.4,1246.9 L904.7,1245.7 L905.0,1246.9 L905.3,1248.3 L905.6,1244.7 L905.9,1247.8 L906.2,1247.3 L906.5,1247.8 L906.8,1245.4 L907.1,1248.9 L907.4,1249.6 L907.7,1249.8 L908.0,1246.6 L908.3,1248.9 L908.6,1246.9 L908.9,1249.1 L909.2,1245.0 L909.5,1249.8 L909.8,1250.3 L910.1,1247.6 L910.4,1247.7 L910.7,1247.8 L911.0,1247.8 L911.3,1244.7 L911.6,1250.4 L911.9,1245.9 L912.2,1245.6 L912.5,1245.1 L912.8,1246.0 L913.1,1249.4 L913.4,1244.6 L913.7,1245.0 L914.0,1248.6 L914.3,1245.6 L914.6,1244.5 L914.9,1248.0 L915.2,1247.8 L915.5,1247.5 L915.8,1248.5 L916.1,1244.9 L916.4,1249.5 L916.7,1248.5 L917.0,1244.5 L917.3,1244.9 L917.6,1247.1 L917.9,1247.1 L918.2,1245.7 L918.5,1244.7 L918.8,1246.3 L919.1,1244.7 L919.4,1247.3 L919.7,1248.8 L920.0,1244.5 L920.3,1246.9 L920.6,1247.8 L920.9,1244.2 L921.2,1248.0 L921.5,1248.5 L921.8,1245.0 L922.1,1245.0 L922.4,1247.3 L922.7,1245.1 L923.0,1244.0 L923.3,1247.0 L923.6,1245.6 L923.9,1242.6 L924.2,1241.6 L924.5,1241.7 L924.8,1241.8 L925.1,1244.5 L925.4,1242.9 L925.7,1243.0 L926.0,1241.8 L926.3,1241.4 L926.6,1236.0 L926.9,1238.2 L927.2,1240.3 L927.5,1239.6 L927.8,1235.1 L928.1,1235.7 L928.4,1236.7 L928.7,1234.9 L929.0,1235.9 L929.3,1233.1 L929.6,1235.5 L929.9,1236.2 L930.2,1233.7 L930.5,1234.9 L930.8,1240.4 L931.1,1239.8 L931.4,1241.3 L931.7,1240.1 L932.0,1241.8 L932.3,1242.8 L932.6,1243.4 L932.9,1238.9 L933.2,1243.0 L933.5,1241.3 L933.8,1244.2 L934.1,1242.2 L934.4,1244.2 L934.7,1246.9 L935.0,1245.4 L935.3,1243.5 L935.6,1245.4 L935.9,1245.1 L936.2,1248.4 L936.5,1244.6 L936.8,1244.9 L937.1,1247.1 L937.4,1244.1 L937.7,1247.1 L938.0,1249.3 L938.3,1246.8 L938.6,1245.4 L938.9,1246.7 L939.2,1247.1 L939.5,1244.9 L939.8,1244.8 L940.1,1244.9 L940.4,1245.9 L940.7,1246.6 L941.0,1246.0 L941.3,1245.7 L941.6,1244.8 L941.9,1247.6 L942.2,1249.4 L942.5,1248.0 L942.8,1247.8 L943.1,1248.3 L943.4,1245.7 L943.7,1248.7 L944.0,1247.2 L944.3,1247.8 L944.6,1248.2 L944.9,1247.3 L945.2,1246.4 L945.5,1246.0 L945.8,1245.9 L946.1,1247.7 L946.4,1246.9 L946.7,1248.1 L947.0,1244.7 L947.3,1246.7 L947.6,1249.8 L947.9,1246.1 L948.2,1248.0 L948.5,1247.6 L948.8,1246.4 L949.1,1250.6 L949.4,1246.5 L949.7,1249.3 L950.0,1245.6 L950.3,1245.1 L950.6,1249.9 L950.9,1247.3 L951.2,1245.1 L951.5,1247.0 L951.8,1247.4 L952.1,1249.1 L952.4,1245.4 L952.7,1246.1 L953.0,1250.5 L953.3,1249.2 L953.6,1245.7 L953.9,1246.8 L954.2,1246.9 L954.5,1248.8 L954.8,1248.4 L955.1,1249.8 L955.4,1249.7 L955.7,1247.8 L956.0,1249.2 L956.3,1249.2 L956.6,1249.3 L956.9,1247.6 L957.2,1249.4 L957.5,1249.0 L957.8,1250.2 L958.1,1245.5 L958.4,1250.0 L958.7,1244.8 L959.0,1249.3 L959.3,1248.2 L959.6,1247.7 L959.9,1250.5 L960.2,1248.1 L960.5,1247.2 L960.8,1249.4 L961.1,1249.9 L961.4,1248.3 L961.7,1247.0 L962.0,1247.4 L962.3,1247.4 L962.6,1249.0 L962.9,1246.4 L963.2,1247.0 L963.5,1248.0 L963.8,1246.9 L964.1,1246.5 L964.4,1249.3 L964.7,1249.7 L965.0,1247.6 L965.3,1247.2 L965.6,1245.7 L965.9,1246.4 L966.2,1245.4 L966.5,1248.0 L966.8,1248.0 L967.1,1245.0 L967.4,1250.0 L967.7,1246.4 L968.0,1249.5 L968.3,1249.4 L968.6,1250.1 L968.9,1245.5 L969.2,1246.8 L969.5,1249.7 L969.8,1244.3 L970.1,1244.4 L970.4,1247.5 L970.7,1247.1 L971.0,1249.5 L971.3,1248.6 L971.6,1247.1 L971.9,1249.8 L972.2,1246.9 L972.5,1246.8 L972.8,1247.7 L973.1,1245.8 L973.4,1245.5 L973.7,1246.8 L974.0,1245.2 L974.3,1248.6 L974.6,1246.8 L974.9,1245.7 L975.2,1242.8 L975.5,1244.2 L975.8,1243.9 L976.1,1244.4 L976.4,1243.9 L976.7,1245.0 L977.0,1244.5 L977.3,1240.5 L977.6,1238.8 L977.9,1238.3 L978.2,1238.5 L978.5,1232.3 L978.8,1230.9 L979.1,1229.7 L979.4,1222.9 L979.7,1220.7 L980.0,1221.7 L980.3,1218.2 L980.6,1214.5 L980.9,1211.1 L981.2,1216.0 L981.5,1216.1 L981.8,1219.0 L982.1,1222.7 L982.4,1225.1 L982.7,1225.3 L983.0,1226.7 L983.3,1230.2 L983.6,1234.0 L983.9,1236.2 L984.2,1236.1 L984.5,1237.7 L984.8,1241.6 L985.1,1242.5 L985.4,1241.9 L985.7,1246.4 L986.0,1244.8 L986.3,1241.7 L986.6,1244.3 L986.9,1246.8 L987.2,1244.2 L987.5,1246.7 L987.8,1242.7 L988.1,1244.7 L988.4,1248.0 L988.7,1246.6 L989.0,1247.2 L989.3,1244.4 L989.6,1246.3 L989.9,1246.7 L990.2,1245.0 L990.5,1247.4 L990.8,1246.7 L991.1,1249.5 L991.4,1247.0 L991.7,1246.0 L992.0,1244.3 L992.3,1244.5 L992.6,1248.2 L992.9,1244.2 L993.2,1244.2 L993.5,1244.6 L993.8,1246.7 L994.1,1248.5 L994.4,1247.2 L994.7,1248.3 L995.0,1243.8 L995.3,1243.4 L995.6,1247.9 L995.9,1245.2 L996.2,1247.5 L996.5,1245.2 L996.8,1244.0 L997.1,1244.5 L997.4,1243.4 L997.7,1248.0 L998.0,1246.0 L998.3,1244.4 L998.6,1244.8 L998.9,1244.1 L999.2,1241.8 L999.5,1246.5 L999.8,1244.2 L1000.1,1245.9 L1000.4,1242.1 L1000.7,1242.3 L1001.0,1239.1 L1001.3,1236.5 L1001.6,1240.3 L1001.9,1237.9 L1002.2,1232.5 L1002.5,1233.4 L1002.8,1230.0 L1003.1,1223.7 L1003.4,1222.1 L1003.7,1220.7 L1004.0,1214.6 L1004.3,1214.5 L1004.6,1208.1 L1004.9,1207.9 L1005.2,1210.1 L1005.5,1208.5 L1005.8,1211.3 L1006.1,1217.7 L1006.4,1218.7 L1006.7,1223.9 L1007.0,1223.9 L1007.3,1226.5 L1007.6,1230.3 L1007.9,1231.7 L1008.2,1238.4 L1008.5,1236.0 L1008.8,1238.9 L1009.1,1237.3 L1009.4,1240.7 L1009.7,1240.4 L1010.0,1240.9 L1010.3,1239.2 L1010.6,1239.7 L1010.9,1243.9 L1011.2,1241.0 L1011.5,1240.2 L1011.8,1239.5 L1012.1,1239.5 L1012.4,1238.5 L1012.7,1236.2 L1013.0,1238.7 L1013.3,1235.0 L1013.6,1231.8 L1013.9,1232.4 L1014.2,1225.6 L1014.5,1223.0 L1014.8,1222.2 L1015.1,1213.4 L1015.4,1210.7 L1015.7,1208.6 L1016.0,1204.6 L1016.3,1198.2 L1016.6,1198.4 L1016.9,1201.6 L1017.2,1202.2 L1017.5,1209.6 L1017.8,1209.6 L1018.1,1218.8 L1018.4,1220.7 L1018.7,1223.3 L1019.0,1228.5 L1019.3,1229.8 L1019.6,1236.0 L1019.9,1235.6 L1020.2,1241.3 L1020.5,1240.9 L1020.8,1240.8 L1021.1,1241.0 L1021.4,1243.9 L1021.7,1242.1 L1022.0,1246.5 L1022.3,1242.4 L1022.6,1245.0 L1022.9,1245.5 L1023.2,1244.1 L1023.5,1247.3 L1023.8,1245.2 L1024.1,1247.0 L1024.4,1246.6 L1024.7,1245.2 L1025.0,1245.8 L1025.3,1244.1 L1025.6,1244.7 L1025.9,1248.8 L1026.2,1245.7 L1026.5,1247.9 L1026.8,1244.6 L1027.1,1247.4 L1027.4,1246.3 L1027.7,1247.1 L1028.0,1246.0 L1028.3,1244.6 L1028.6,1246.2 L1028.9,1245.7 L1029.2,1245.1 L1029.5,1248.7 L1029.8,1246.1 L1030.1,1246.9 L1030.4,1250.0 L1030.7,1249.2 L1031.0,1249.9 L1031.3,1249.8 L1031.6,1245.4 L1031.9,1246.3 L1032.2,1244.8 L1032.5,1248.8 L1032.8,1248.7 L1033.1,1246.8 L1033.4,1247.2 L1033.7,1248.7 L1034.0,1249.0 L1034.3,1246.3 L1034.6,1249.9 L1034.9,1246.9 L1035.2,1248.6 L1035.5,1245.9 L1035.8,1245.6 L1036.1,1250.3 L1036.4,1249.3 L1036.7,1249.2 L1037.0,1245.1 L1037.3,1245.2 L1037.6,1245.9 L1037.9,1246.1 L1038.2,1246.8 L1038.5,1247.2 L1038.8,1245.2 L1039.1,1246.8 L1039.4,1248.8 L1039.7,1246.1 L1040.0,1250.0 L1040.3,1248.4 L1040.6,1249.3 L1040.9,1246.5 L1041.2,1247.6 L1041.5,1249.1 L1041.8,1247.1 L1042.1,1245.0 L1042.4,1250.0 L1042.7,1249.7 L1043.0,1246.8 L1043.3,1245.3 L1043.6,1250.2 L1043.9,1248.7 L1044.2,1245.3 L1044.5,1246.5 L1044.8,1245.7 L1045.1,1249.8 L1045.4,1246.3 L1045.7,1250.6 L1046.0,1249.6 L1046.3,1245.6 L1046.6,1249.3 L1046.9,1247.5 L1047.2,1249.6 L1047.5,1250.1 L1047.8,1246.8 L1048.1,1245.6 L1048.4,1250.8 L1048.7,1247.6 L1049.0,1250.7 L1049.3,1249.3 L1049.6,1249.5 L1049.9,1250.1 L1050.2,1248.9 L1050.5,1247.8 L1050.8,1245.4 L1051.1,1249.3 L1051.4,1247.7 L1051.7,1248.2 L1052.0,1250.7 L1052.3,1245.9 L1052.6,1249.7 L1052.9,1245.3 L1053.2,1249.3 L1053.5,1249.9 L1053.8,1246.6 L1054.1,1248.3 L1054.4,1250.9 L1054.7,1248.9 L1055.0,1248.3 L1055.3,1246.6 L1055.6,1245.4 L1055.9,1247.2 L1056.2,1247.5 L1056.5,1246.2 L1056.8,1246.9 L1057.1,1245.8 L1057.4,1249.3 L1057.7,1249.0 L1058.0,1246.4 L1058.3,1246.4 L1058.6,1248.1 L1058.9,1247.7 L1059.2,1250.6 L1059.5,1247.1 L1059.8,1246.8 L1060.1,1250.3 L1060.4,1245.8 L1060.7,1248.3 L1061.0,1246.9 L1061.3,1249.8 L1061.6,1248.2 L1061.9,1249.5 L1062.2,1245.9 L1062.5,1248.9 L1062.8,1248.5 L1063.1,1247.6 L1063.4,1249.4 L1063.7,1249.8 L1064.0,1245.5 L1064.3,1246.5 L1064.6,1247.0 L1064.9,1246.0 L1065.2,1245.1 L1065.5,1246.4 L1065.8,1245.9 L1066.1,1248.9 L1066.4,1247.4 L1066.7,1245.3 L1067.0,1246.6 L1067.3,1247.4 L1067.6,1246.8 L1067.9,1245.6 L1068.2,1245.0 L1068.5,1244.6 L1068.8,1250.5 L1069.1,1249.0 L1069.4,1244.9 L1069.7,1248.7 L1070.0,1250.3 L1070.3,1247.7 L1070.6,1244.9 L1070.9,1247.2 L1071.2,1246.8 L1071.5,1245.3 L1071.8,1247.4 L1072.1,1244.1 L1072.4,1249.5 L1072.7,1247.8 L1073.0,1247.6 L1073.3,1249.4 L1073.6,1247.6 L1073.9,1245.1 L1074.2,1245.0 L1074.5,1244.2 L1074.8,1243.4 L1075.1,1247.8 L1075.4,1248.0 L1075.7,1244.6 L1076.0,1243.7 L1076.3,1246.2 L1076.6,1247.2 L1076.9,1247.4 L1077.2,1242.6 L1077.5,1245.9 L1077.8,1245.7 L1078.1,1244.6 L1078.4,1241.3 L1078.7,1239.6 L1079.0,1242.2 L1079.3,1237.7 L1079.6,1236.1 L1079.9,1234.9 L1080.2,1231.0 L1080.5,1230.3 L1080.8,1222.8 L1081.1,1217.1 L1081.4,1215.3 L1081.7,1210.5 L1082.0,1206.6 L1082.3,1201.3 L1082.6,1199.1 L1082.9,1197.7 L1083.2,1195.3 L1083.5,1197.6 L1083.8,1199.4 L1084.1,1205.0 L1084.4,1211.9 L1084.7,1214.0 L1085.0,1222.4 L1085.3,1223.6 L1085.6,1229.0 L1085.9,1235.3 L1086.2,1232.7 L1086.5,1234.5 L1086.8,1238.7 L1087.1,1238.5 L1087.4,1242.8 L1087.7,1239.3 L1088.0,1244.9 L1088.3,1245.5 L1088.6,1245.5 L1088.9,1243.7 L1089.2,1243.1 L1089.5,1245.6 L1089.8,1244.9 L1090.1,1244.5 L1090.4,1244.2 L1090.7,1244.9 L1091.0,1246.3 L1091.3,1247.4 L1091.6,1247.9 L1091.9,1243.5 L1092.2,1244.3 L1092.5,1245.2 L1092.8,1245.9 L1093.1,1244.6 L1093.4,1243.7 L1093.7,1242.9 L1094.0,1244.3 L1094.3,1245.0 L1094.6,1247.9 L1094.9,1247.4 L1095.2,1246.9 L1095.5,1247.3 L1095.8,1246.9 L1096.1,1244.5 L1096.4,1245.2 L1096.7,1240.2 L1097.0,1243.3 L1097.3,1242.2 L1097.6,1239.6 L1097.9,1240.3 L1098.2,1241.7 L1098.5,1237.8 L1098.8,1237.7 L1099.1,1234.5 L1099.4,1233.6 L1099.7,1235.6 L1100.0,1229.4 L1100.3,1229.3 L1100.6,1231.4 L1100.9,1229.4 L1101.2,1226.8 L1101.5,1230.2 L1101.8,1228.8 L1102.1,1230.6 L1102.4,1230.4 L1102.7,1232.1 L1103.0,1233.4 L1103.3,1233.6 L1103.6,1233.1 L1103.9,1234.7 L1104.2,1240.1 L1104.5,1239.1 L1104.8,1237.5 L1105.1,1242.9 L1105.4,1240.1 L1105.7,1239.9 L1106.0,1243.1 L1106.3,1242.0 L1106.6,1243.9 L1106.9,1244.8 L1107.2,1243.2 L1107.5,1245.5 L1107.8,1243.1 L1108.1,1245.7 L1108.4,1246.3 L1108.7,1243.4 L1109.0,1245.6 L1109.3,1243.7 L1109.6,1246.0 L1109.9,1248.6 L1110.2,1246.8 L1110.5,1247.9 L1110.8,1248.2 L1111.1,1244.4 L1111.4,1249.7 L1111.7,1248.1 L1112.0,1244.5 L1112.3,1248.9 L1112.6,1246.3 L1112.9,1245.0 L1113.2,1249.7 L1113.5,1247.4 L1113.8,1248.7 L1114.1,1244.9 L1114.4,1248.7 L1114.7,1244.4 L1115.0,1245.5 L1115.3,1246.4 L1115.6,1244.2 L1115.9,1247.7 L1116.2,1245.4 L1116.5,1246.0 L1116.8,1248.4 L1117.1,1246.8 L1117.4,1249.5 L1117.7,1247.9 L1118.0,1249.4 L1118.3,1247.6 L1118.6,1249.7 L1118.9,1249.4 L1119.2,1245.2 L1119.5,1248.7 L1119.8,1246.3 L1120.1,1248.8 L1120.4,1248.3 L1120.7,1249.2 L1121.0,1245.0 L1121.3,1246.5 L1121.6,1248.7 L1121.9,1249.9 L1122.2,1248.6 L1122.5,1244.5 L1122.8,1247.8 L1123.1,1244.8 L1123.4,1247.5 L1123.7,1249.0 L1124.0,1244.8 L1124.3,1249.7 L1124.6,1248.2 L1124.9,1245.7 L1125.2,1245.3 L1125.5,1246.8 L1125.8,1249.1 L1126.1,1247.5 L1126.4,1244.7 L1126.7,1244.1 L1127.0,1244.6 L1127.3,1248.7 L1127.6,1244.9 L1127.9,1247.1 L1128.2,1245.4 L1128.5,1247.7 L1128.8,1245.7 L1129.1,1244.2 L1129.4,1248.5 L1129.7,1246.3 L1130.0,1247.0 L1130.3,1247.5 L1130.6,1248.1 L1130.9,1242.2 L1131.2,1243.9 L1131.5,1242.4 L1131.8,1244.2 L1132.1,1246.0 L1132.4,1245.2 L1132.7,1240.1 L1133.0,1240.5 L1133.3,1243.8 L1133.6,1242.5 L1133.9,1240.3 L1134.2,1240.3 L1134.5,1237.9 L1134.8,1241.6 L1135.1,1238.6 L1135.4,1241.2 L1135.7,1239.4 L1136.0,1236.2 L1136.3,1237.7 L1136.6,1237.2 L1136.9,1241.6 L1137.2,1240.1 L1137.5,1237.2 L1137.8,1238.5 L1138.1,1240.1 L1138.4,1241.2 L1138.7,1242.4 L1139.0,1241.8 L1139.3,1242.0 L1139.6,1240.4 L1139.9,1244.3 L1140.2,1243.2 L1140.5,1241.7 L1140.8,1244.6 L1141.1,1248.1 L1141.4,1242.7 L1141.7,1243.5 L1142.0,1246.9 L1142.3,1244.7 L1142.6,1244.8 L1142.9,1246.3 L1143.2,1245.0 L1143.5,1247.0 L1143.8,1246.8 L1144.1,1249.5 L1144.4,1249.7 L1144.7,1244.0 L1145.0,1247.3 L1145.3,1248.6 L1145.6,1249.2 L1145.9,1248.6 L1146.2,1247.8 L1146.5,1247.8 L1146.8,1246.2 L1147.1,1245.7 L1147.4,1248.8 L1147.7,1249.3 L1148.0,1249.7 L1148.3,1248.2 L1148.6,1245.9 L1148.9,1248.6 L1149.2,1248.5 L1149.5,1247.1 L1149.8,1247.8 L1150.1,1246.1 L1150.4,1247.3 L1150.7,1246.4 L1151.0,1244.3 L1151.3,1245.9 L1151.6,1245.8 L1151.9,1249.8 L1152.2,1246.7 L1152.5,1245.9 L1152.8,1245.1 L1153.1,1245.0 L1153.4,1245.6 L1153.7,1244.3 L1154.0,1243.4 L1154.3,1248.5 L1154.6,1245.9 L1154.9,1245.7 L1155.2,1246.4 L1155.5,1244.6 L1155.8,1243.6 L1156.1,1242.8 L1156.4,1244.0 L1156.7,1243.8 L1157.0,1246.0 L1157.3,1244.6 L1157.6,1246.5 L1157.9,1242.3 L1158.2,1245.1 L1158.5,1242.3 L1158.8,1238.2 L1159.1,1237.4 L1159.4,1238.2 L1159.7,1238.7 L1160.0,1232.6 L1160.3,1232.4 L1160.6,1227.1 L1160.9,1226.3 L1161.2,1217.6 L1161.5,1216.1 L1161.8,1214.5 L1162.1,1207.1 L1162.4,1203.8 L1162.7,1200.4 L1163.0,1200.5 L1163.3,1201.8 L1163.6,1206.5 L1163.9,1206.7 L1164.2,1211.6 L1164.5,1214.4 L1164.8,1220.9 L1165.1,1226.3 L1165.4,1228.5 L1165.7,1229.0 L1166.0,1234.9 L1166.3,1238.7 L1166.6,1238.4 L1166.9,1236.9 L1167.2,1242.6 L1167.5,1244.1 L1167.8,1241.8 L1168.1,1241.2 L1168.4,1242.1 L1168.7,1244.6 L1169.0,1247.1 L1169.3,1246.0 L1169.6,1247.9 L1169.9,1243.9 L1170.2,1244.8 L1170.5,1247.5 L1170.8,1247.0 L1171.1,1245.7 L1171.4,1247.5 L1171.7,1245.5 L1172.0,1244.0 L1172.3,1246.2 L1172.6,1244.1 L1172.9,1247.6 L1173.2,1245.9 L1173.5,1247.0 L1173.8,1247.6 L1174.1,1245.7 L1174.4,1246.9 L1174.7,1244.3 L1175.0,1249.8 L1175.3,1247.7 L1175.6,1250.2 L1175.9,1244.7 L1176.2,1248.1 L1176.5,1248.8 L1176.8,1246.4 L1177.1,1245.0 L1177.4,1245.4 L1177.7,1245.4 L1178.0,1249.1 L1178.3,1245.1 L1178.6,1249.4 L1178.9,1247.1 L1179.2,1247.8 L1179.5,1248.1 L1179.8,1247.9 L1180.1,1248.5 L1180.4,1248.2 L1180.7,1246.6 L1181.0,1249.0 L1181.3,1246.1 L1181.6,1248.8 L1181.9,1249.1 L1182.2,1249.2 L1182.5,1246.4 L1182.8,1249.2 L1183.1,1250.4 L1183.4,1247.2 L1183.7,1246.1 L1184.0,1247.6 L1184.3,1250.0 L1184.6,1245.2 L1184.9,1244.4 L1185.2,1247.1 L1185.5,1248.1 L1185.8,1248.8 L1186.1,1246.2 L1186.4,1249.9 L1186.7,1245.2 L1187.0,1248.3 L1187.3,1244.1 L1187.6,1243.6 L1187.9,1243.9 L1188.2,1243.2 L1188.5,1245.4 L1188.8,1245.3 L1189.1,1242.4 L1189.4,1246.1 L1189.7,1241.7 L1190.0,1239.2 L1190.3,1238.0 L1190.6,1239.7 L1190.9,1239.1 L1191.2,1232.6 L1191.5,1229.9 L1191.8,1232.6 L1192.1,1228.0 L1192.4,1231.5 L1192.7,1228.5 L1193.0,1230.0 L1193.3,1229.5 L1193.6,1233.9 L1193.9,1233.7 L1194.2,1234.8 L1194.5,1240.2 L1194.8,1237.1 L1195.1,1242.3 L1195.4,1239.5 L1195.7,1244.1 L1196.0,1243.5 L1196.3,1246.9 L1196.6,1242.6 L1196.9,1246.1 L1197.2,1245.5 L1197.5,1248.8 L1197.8,1249.2 L1198.1,1247.5 L1198.4,1245.2 L1198.7,1245.4 L1199.0,1245.6 L1199.3,1246.7 L1199.6,1245.6 L1199.9,1245.5 L1200.2,1248.8 L1200.5,1248.2 L1200.8,1246.1 L1201.1,1250.4 L1201.4,1245.7 L1201.7,1247.8 L1202.0,1245.4 L1202.3,1249.6 L1202.6,1249.7 L1202.9,1246.1 L1203.2,1249.0 L1203.5,1249.4 L1203.8,1246.2 L1204.1,1246.4 L1204.4,1247.3 L1204.7,1249.8 L1205.0,1245.4 L1205.3,1248.5 L1205.6,1247.9 L1205.9,1247.0 L1206.2,1247.7 L1206.5,1249.5 L1206.8,1245.4 L1207.1,1249.4 L1207.4,1246.2 L1207.7,1248.7 L1208.0,1249.1 L1208.3,1244.9 L1208.6,1248.9 L1208.9,1249.6 L1209.2,1245.3 L1209.5,1243.5 L1209.8,1243.9 L1210.1,1248.9 L1210.4,1242.9 L1210.7,1248.0 L1211.0,1243.1 L1211.3,1246.3 L1211.6,1242.0 L1211.9,1241.9 L1212.2,1244.3 L1212.5,1239.9 L1212.8,1240.4 L1213.1,1242.7 L1213.4,1240.1 L1213.7,1239.4 L1214.0,1238.0 L1214.3,1230.1 L1214.6,1228.9 L1214.9,1229.5 L1215.2,1226.0 L1215.5,1219.2 L1215.8,1219.1 L1216.1,1214.8 L1216.4,1213.9 L1216.7,1210.6 L1217.0,1209.6 L1217.3,1215.9 L1217.6,1213.2 L1217.9,1218.7 L1218.2,1216.8 L1218.5,1221.9 L1218.8,1222.7 L1219.1,1227.3 L1219.4,1228.5 L1219.7,1234.0 L1220.0,1233.0 L1220.3,1238.5 L1220.6,1238.8 L1220.9,1237.9 L1221.2,1240.5 L1221.5,1242.4 L1221.8,1245.7 L1222.1,1243.0 L1222.4,1242.7 L1222.7,1247.7 L1223.0,1247.5 L1223.3,1246.9 L1223.6,1244.4 L1223.9,1244.1 L1224.2,1244.8 L1224.5,1243.8 L1224.8,1243.7 L1225.1,1246.6 L1225.4,1246.2 L1225.7,1247.1 L1226.0,1246.1 L1226.3,1244.0 L1226.6,1248.1 L1226.9,1248.0 L1227.2,1247.4 L1227.5,1247.5 L1227.8,1248.3 L1228.1,1250.1 L1228.4,1249.5 L1228.7,1248.6 L1229.0,1246.7 L1229.3,1246.2 L1229.6,1246.8 L1229.9,1250.2 L1230.2,1246.6 L1230.5,1246.6 L1230.8,1246.8 L1231.1,1245.1 L1231.4,1250.3 L1231.7,1244.3 L1232.0,1247.9 L1232.3,1249.7 L1232.6,1245.7 L1232.9,1247.8 L1233.2,1246.3 L1233.5,1245.4 L1233.8,1245.1 L1234.1,1244.5 L1234.4,1248.8 L1234.7,1248.4 L1235.0,1249.0 L1235.3,1243.7 L1235.6,1247.4 L1235.9,1245.1 L1236.2,1246.8 L1236.5,1246.0 L1236.8,1244.3 L1237.1,1247.9 L1237.4,1241.6 L1237.7,1245.6 L1238.0,1245.7 L1238.3,1242.9 L1238.6,1242.5 L1238.9,1243.9 L1239.2,1238.2 L1239.5,1239.1 L1239.8,1238.2 L1240.1,1234.2 L1240.4,1234.1 L1240.7,1229.9 L1241.0,1228.3 L1241.3,1226.2 L1241.6,1224.0 L1241.9,1219.4 L1242.2,1218.9 L1242.5,1216.4 L1242.8,1213.1 L1243.1,1214.8 L1243.4,1212.9 L1243.7,1217.6 L1244.0,1216.6 L1244.3,1220.2 L1244.6,1221.4 L1244.9,1223.7 L1245.2,1224.8 L1245.5,1226.9 L1245.8,1234.0 L1246.1,1233.8 L1246.4,1235.7 L1246.7,1237.5 L1247.0,1240.8 L1247.3,1238.7 L1247.6,1239.4 L1247.9,1244.3 L1248.2,1243.0 L1248.5,1244.7 L1248.8,1246.4 L1249.1,1247.3 L1249.4,1247.5 L1249.7,1242.9 L1250.0,1245.2 L1250.3,1248.1 L1250.6,1248.2 L1250.9,1244.2 L1251.2,1244.6 L1251.5,1245.3 L1251.8,1244.5 L1252.1,1246.1 L1252.4,1248.9 L1252.7,1247.3 L1253.0,1247.0 L1253.3,1244.8 L1253.6,1246.7 L1253.9,1250.4 L1254.2,1248.6 L1254.5,1247.2 L1254.8,1247.4 L1255.1,1249.4 L1255.4,1249.2 L1255.7,1245.5 L1256.0,1248.8 L1256.3,1246.9 L1256.6,1247.8 L1256.9,1246.1 L1257.2,1247.0 L1257.5,1246.8 L1257.8,1247.0 L1258.1,1244.8 L1258.4,1245.9 L1258.7,1248.2 L1259.0,1245.1 L1259.3,1245.8 L1259.6,1249.0 L1259.9,1246.3 L1260.2,1246.6 L1260.5,1246.1 L1260.8,1249.6 L1261.1,1245.1 L1261.4,1248.3 L1261.7,1249.6 L1262.0,1245.6 L1262.3,1246.9 L1262.6,1249.1 L1262.9,1248.0 L1263.2,1246.4 L1263.5,1244.4 L1263.8,1246.7 L1264.1,1246.1 L1264.4,1248.1 L1264.7,1245.4 L1265.0,1245.9 L1265.3,1247.2 L1265.6,1248.0 L1265.9,1245.0 L1266.2,1245.0 L1266.5,1245.8 L1266.8,1247.5 L1267.1,1242.7 L1267.4,1246.8 L1267.7,1244.6 L1268.0,1241.8 L1268.3,1242.6 L1268.6,1239.5 L1268.9,1236.6 L1269.2,1239.2 L1269.5,1235.1 L1269.8,1234.0 L1270.1,1231.5 L1270.4,1231.4 L1270.7,1227.8 L1271.0,1220.5 L1271.3,1220.9 L1271.6,1217.1 L1271.9,1214.3 L1272.2,1214.2 L1272.5,1209.8 L1272.8,1209.1 L1273.1,1211.5 L1273.4,1209.5 L1273.7,1211.4 L1274.0,1213.8 L1274.3,1218.3 L1274.6,1220.3 L1274.9,1223.8 L1275.2,1224.7 L1275.5,1225.3 L1275.8,1231.8 L1276.1,1233.4 L1276.4,1236.8 L1276.7,1238.7 L1277.0,1236.4 L1277.3,1238.4 L1277.6,1238.7 L1277.9,1244.2 L1278.2,1240.7 L1278.5,1241.3 L1278.8,1245.9 L1279.1,1245.2 L1279.4,1242.5 L1279.7,1246.6 L1280.0,1247.1 L1280.3,1245.9 L1280.6,1243.6 L1280.9,1247.6 L1281.2,1246.1 L1281.5,1247.2 L1281.8,1249.8 L1282.1,1248.8 L1282.4,1249.2 L1282.7,1245.0 L1283.0,1246.2 L1283.3,1247.3 L1283.6,1244.3 L1283.9,1250.2 L1284.2,1246.0 L1284.5,1245.9 L1284.8,1246.3 L1285.1,1245.9 L1285.4,1249.6 L1285.7,1247.8 L1286.0,1247.5 L1286.3,1246.9 L1286.6,1244.7 L1286.9,1246.2 L1287.2,1249.6 L1287.5,1249.1 L1287.8,1249.4 L1288.1,1245.8 L1288.4,1245.4 L1288.7,1244.4 L1289.0,1247.3 L1289.3,1246.2 L1289.6,1246.6 L1289.9,1246.7 L1290.2,1247.1 L1290.5,1245.7 L1290.8,1248.1 L1291.1,1244.3 L1291.4,1248.4 L1291.7,1245.9 L1292.0,1242.6 L1292.3,1243.8 L1292.6,1244.7 L1292.9,1243.4 L1293.2,1243.6 L1293.5,1241.3 L1293.8,1240.0 L1294.1,1241.9 L1294.4,1237.3 L1294.7,1238.0 L1295.0,1236.5 L1295.3,1232.7 L1295.6,1229.0 L1295.9,1228.7 L1296.2,1222.2 L1296.5,1221.0 L1296.8,1212.1 L1297.1,1210.4 L1297.4,1208.0 L1297.7,1201.4 L1298.0,1204.0 L1298.3,1198.2 L1298.6,1201.6 L1298.9,1200.6 L1299.2,1207.6 L1299.5,1208.8 L1299.8,1214.0 L1300.1,1216.2 L1300.4,1221.2 L1300.7,1224.9 L1301.0,1226.1 L1301.3,1228.7 L1301.6,1235.2 L1301.9,1233.5 L1302.2,1240.2 L1302.5,1237.6 L1302.8,1238.4 L1303.1,1239.6 L1303.4,1244.7 L1303.7,1246.5 L1304.0,1243.9 L1304.3,1246.0 L1304.6,1244.0 L1304.9,1248.3 L1305.2,1247.3 L1305.5,1244.4 L1305.8,1244.0 L1306.1,1248.0 L1306.4,1244.3 L1306.7,1249.2 L1307.0,1246.1 L1307.3,1245.9 L1307.6,1248.1 L1307.9,1246.7 L1308.2,1248.2 L1308.5,1245.9 L1308.8,1250.5 L1309.1,1247.1 L1309.4,1250.2 L1309.7,1246.2 L1310.0,1250.1 L1310.3,1251.3 L1310.6,1247.8 L1310.9,1245.7 L1311.2,1247.8 L1311.5,1249.5 L1311.8,1247.0 L1312.1,1249.0 L1312.4,1246.3 L1312.7,1248.6 L1313.0,1250.2 L1313.3,1248.4 L1313.6,1250.0 L1313.9,1246.6 L1314.2,1250.9 L1314.5,1246.7 L1314.8,1251.5 L1315.1,1252.0 L1315.4,1251.7 L1315.7,1249.2 L1316.0,1247.8 L1316.3,1248.2 L1316.6,1250.6 L1316.9,1249.1 L1317.2,1251.7 L1317.5,1246.7 L1317.8,1249.1 L1318.1,1251.4 L1318.4,1249.8 L1318.7,1249.5 L1319.0,1246.8 L1319.3,1247.1 L1319.6,1247.9 L1319.9,1251.7 L1320.2,1251.4 L1320.5,1247.7 L1320.8,1251.9 L1321.1,1246.5 L1321.4,1250.0 L1321.7,1252.2 L1322.0,1248.4 L1322.3,1252.1 L1322.6,1250.3 L1322.9,1246.7 L1323.2,1248.4 L1323.5,1249.1 L1323.8,1247.9 L1324.1,1250.9 L1324.4,1247.5 L1324.7,1251.2 L1325.0,1248.3 L1325.3,1246.9 L1325.6,1249.8 L1325.9,1247.1 L1326.2,1249.8 L1326.5,1251.2 L1326.8,1250.1 L1327.1,1249.3 L1327.4,1246.7 L1327.7,1249.6 L1328.0,1247.1 L1328.3,1250.4 L1328.6,1247.3 L1328.9,1250.0 L1329.2,1248.7 L1329.5,1248.8 L1329.8,1250.5 L1330.1,1247.6 L1330.4,1247.6 L1330.7,1252.2 L1331.0,1248.6 L1331.3,1251.6 L1331.6,1251.8 L1331.9,1249.5 L1332.2,1247.5 L1332.5,1247.2 L1332.8,1251.9 L1333.1,1247.3 L1333.4,1249.6 L1333.7,1249.8 L1334.0,1247.3 L1334.3,1249.4 L1334.6,1247.6 L1334.9,1249.8 L1335.2,1249.7 L1335.5,1248.8 L1335.8,1247.8 L1336.1,1249.0 L1336.4,1247.8 L1336.7,1247.4 L1337.0,1248.1 L1337.3,1251.9 L1337.6,1249.6 L1337.9,1252.0 L1338.2,1246.7 L1338.5,1252.3 L1338.8,1249.6 L1339.1,1251.4 L1339.4,1250.0 L1339.7,1250.8 L1340.0,1248.0 L1340.3,1251.1 L1340.6,1247.5 L1340.9,1248.2 L1341.2,1246.8 L1341.5,1249.0 L1341.8,1249.7 L1342.1,1248.4 L1342.4,1251.9 L1342.7,1247.1 L1343.0,1250.1 L1343.3,1248.0 L1343.6,1250.2 L1343.9,1251.3 L1344.2,1250.8 L1344.5,1246.9 L1344.8,1248.0 L1345.1,1250.1 L1345.4,1252.4 L1345.7,1246.8 L1346.0,1250.2 L1346.3,1250.7 L1346.6,1251.4 L1346.9,1248.6 L1347.2,1251.4 L1347.5,1249.2 L1347.8,1252.0 L1348.1,1246.5 L1348.4,1252.1 L1348.7,1248.9 L1349.0,1248.8 L1349.3,1246.9 L1349.6,1247.8 L1349.9,1250.7 L1350.2,1250.4 L1350.5,1247.2 L1350.8,1248.3 L1351.1,1247.1 L1351.4,1247.4 L1351.7,1247.5 L1352.0,1248.1 L1352.3,1251.9 L1352.6,1252.0 L1352.9,1250.7 L1353.2,1248.8 L1353.5,1248.8 L1353.8,1250.4 L1354.1,1251.1 L1354.4,1250.0 L1354.7,1249.2 L1355.0,1246.4 L1355.3,1248.8 L1355.6,1250.0 L1355.9,1249.4 L1356.2,1245.0 L1356.5,1248.4 L1356.8,1245.9 L1357.1,1244.4 L1357.4,1248.9 L1357.7,1246.7 L1358.0,1246.6 L1358.3,1242.5 L1358.6,1246.1 L1358.9,1246.2 L1359.2,1245.4 L1359.5,1243.8 L1359.8,1243.7 L1360.1,1242.9 L1360.4,1241.0 L1360.7,1239.5 L1361.0,1241.4 L1361.3,1240.8 L1361.6,1241.1 L1361.9,1237.5 L1362.2,1241.5 L1362.5,1239.1 L1362.8,1241.9 L1363.1,1237.3 L1363.4,1242.9 L1363.7,1242.4 L1364.0,1239.7 L1364.3,1243.9 L1364.6,1240.9 L1364.9,1241.3 L1365.2,1243.4 L1365.5,1242.7 L1365.8,1244.7 L1366.1,1247.7 L1366.4,1246.8 L1366.7,1247.4 L1367.0,1245.8 L1367.3,1248.5 L1367.6,1248.9 L1367.9,1248.5 L1368.2,1250.3 L1368.5,1249.8 L1368.8,1247.4 L1369.1,1245.7 L1369.4,1249.2 L1369.7,1250.4 L1370.0,1247.5 L1370.3,1249.1 L1370.6,1250.7 L1370.9,1250.5 L1371.2,1245.8 L1371.5,1248.7 L1371.8,1245.9 L1372.1,1246.5 L1372.4,1250.8 L1372.7,1248.4 L1373.0,1249.5 L1373.3,1248.7 L1373.6,1248.0 L1373.9,1247.2 L1374.2,1248.1 L1374.5,1251.0 L1374.8,1249.7 L1375.1,1247.7 L1375.4,1246.4 L1375.7,1247.5 L1376.0,1250.1 L1376.3,1248.5 L1376.6,1249.8 L1376.9,1250.7 L1377.2,1246.5 L1377.5,1249.8 L1377.8,1245.9 L1378.1,1250.6 L1378.4,1246.7 L1378.7,1247.2 L1379.0,1251.2 L1379.3,1247.6 L1379.6,1246.6 L1379.9,1250.5 L1380.2,1248.8 L1380.5,1250.3 L1380.8,1247.2 L1381.1,1247.6 L1381.4,1250.2 L1381.7,1247.3 L1382.0,1249.9 L1382.3,1244.9 L1382.6,1248.4 L1382.9,1244.0 L1383.2,1245.9 L1383.5,1242.3 L1383.8,1242.8 L1384.1,1246.9 L1384.4,1243.4 L1384.7,1244.9 L1385.0,1240.9 L1385.3,1240.8 L1385.6,1238.5 L1385.9,1240.4 L1386.2,1241.3 L1386.5,1238.4 L1386.8,1236.6 L1387.1,1239.0 L1387.4,1237.9 L1387.7,1235.6 L1388.0,1231.2 L1388.3,1233.7 L1388.6,1232.0 L1388.9,1234.5 L1389.2,1230.6 L1389.5,1232.2 L1389.8,1232.0 L1390.1,1230.6 L1390.4,1231.8 L1390.7,1233.2 L1391.0,1235.2 L1391.3,1233.5 L1391.6,1233.5 L1391.9,1238.1 L1392.2,1233.5 L1392.5,1239.1 L1392.8,1239.1 L1393.1,1239.3 L1393.4,1239.5 L1393.7,1242.2 L1394.0,1243.8 L1394.3,1243.6 L1394.6,1244.4 L1394.9,1240.8 L1395.2,1243.1 L1395.5,1242.5 L1395.8,1247.9 L1396.1,1248.0 L1396.4,1243.9 L1396.7,1247.0 L1397.0,1247.2 L1397.3,1244.3 L1397.6,1246.7 L1397.9,1249.0 L1398.2,1248.6 L1398.5,1246.6 L1398.8,1249.7 L1399.1,1247.0 L1399.4,1248.6 L1399.7,1248.0 L1400.0,1251.4 L1400.3,1249.5 L1400.6,1250.5 L1400.9,1249.8 L1401.2,1248.1 L1401.5,1251.7 L1401.8,1250.2 L1402.1,1250.2 L1402.4,1247.7 L1402.7,1247.1 L1403.0,1249.6 L1403.3,1251.1 L1403.6,1251.0 L1403.9,1248.3 L1404.2,1247.1 L1404.5,1249.4 L1404.8,1251.6 L1405.1,1247.3 L1405.4,1250.8 L1405.7,1247.4 L1406.0,1248.2 L1406.3,1246.7 L1406.6,1248.2 L1406.9,1248.7 L1407.2,1252.2 L1407.5,1252.2 L1407.8,1247.6 L1408.1,1248.3 L1408.4,1252.1 L1408.7,1247.6 L1409.0,1248.4 L1409.3,1249.1 L1409.6,1247.1 L1409.9,1248.0 L1410.2,1248.8 L1410.5,1248.7 L1410.8,1252.2 L1411.1,1248.0 L1411.4,1247.6 L1411.7,1251.8 L1412.0,1249.1 L1412.3,1251.4 L1412.6,1250.1 L1412.9,1251.0 L1413.2,1248.2 L1413.5,1247.2 L1413.8,1250.8 L1414.1,1249.0 L1414.4,1249.5 L1414.7,1250.1 L1415.0,1250.6 L1415.3,1247.7 L1415.6,1248.1 L1415.9,1251.4 L1416.2,1249.0 L1416.5,1247.5 L1416.8,1249.5 L1417.1,1247.2 L1417.4,1250.2 L1417.7,1245.7 L1418.0,1250.3 L1418.3,1248.6 L1418.6,1247.2 L1418.9,1250.5 L1419.2,1246.3 L1419.5,1245.9 L1419.8,1244.6 L1420.1,1247.2 L1420.4,1248.0 L1420.7,1247.1 L1421.0,1244.9 L1421.3,1246.6 L1421.6,1241.7 L1421.9,1241.9 L1422.2,1242.8 L1422.5,1243.5 L1422.8,1240.1 L1423.1,1238.8 L1423.4,1237.5 L1423.7,1233.3 L1424.0,1234.5 L1424.3,1231.2 L1424.6,1226.7 L1424.9,1225.1 L1425.2,1225.8 L1425.5,1221.8 L1425.8,1220.0 L1426.1,1224.0 L1426.4,1222.4 L1426.7,1223.4 L1427.0,1225.8 L1427.3,1229.0 L1427.6,1226.4 L1427.9,1229.6 L1428.2,1230.0 L1428.5,1233.9 L1428.8,1236.2 L1429.1,1239.8 L1429.4,1240.1 L1429.7,1240.7 L1430.0,1240.7 L1430.3,1242.5 L1430.6,1241.3 L1430.9,1245.3 L1431.2,1245.3 L1431.5,1245.8 L1431.8,1241.8 L1432.1,1244.9 L1432.4,1245.2 L1432.7,1243.4 L1433.0,1245.4 L1433.3,1244.8 L1433.6,1243.2 L1433.9,1242.8 L1434.2,1240.7 L1434.5,1240.8 L1434.8,1234.9 L1435.1,1236.6 L1435.4,1234.7 L1435.7,1232.0 L1436.0,1227.6 L1436.3,1223.9 L1436.6,1224.4 L1436.9,1223.0 L1437.2,1217.0 L1437.5,1214.1 L1437.8,1212.0 L1438.1,1209.5 L1438.4,1211.9 L1438.7,1213.3 L1439.0,1212.7 L1439.3,1211.2 L1439.6,1215.0 L1439.9,1213.6 L1440.2,1220.8 L1440.5,1220.4 L1440.8,1221.3 L1441.1,1227.8 L1441.4,1227.4 L1441.7,1230.7 L1442.0,1231.6 L1442.3,1236.0 L1442.6,1238.4 L1442.9,1241.5 L1443.2,1238.3 L1443.5,1244.2 L1443.8,1240.9 L1444.1,1242.5 L1444.4,1245.6 L1444.7,1244.5 L1445.0,1245.0 L1445.3,1246.9 L1445.6,1245.1 L1445.9,1248.9 L1446.2,1245.7 L1446.5,1249.7 L1446.8,1249.7 L1447.1,1248.3 L1447.4,1245.4 L1447.7,1250.0 L1448.0,1245.7 L1448.3,1248.6 L1448.6,1248.3 L1448.9,1246.2 L1449.2,1249.7 L1449.5,1250.4 L1449.8,1249.6 L1450.1,1248.6 L1450.4,1249.3 L1450.7,1249.8 L1451.0,1247.7 L1451.3,1251.6 L1451.6,1252.5 L1451.9,1251.4 L1452.2,1252.4 L1452.5,1248.6 L1452.8,1252.6 L1453.1,1247.1 L1453.4,1249.6 L1453.7,1247.6 L1454.0,1249.5 L1454.3,1250.9 L1454.6,1251.1 L1454.9,1249.6 L1455.2,1249.0 L1455.5,1248.1 L1455.8,1249.4 L1456.1,1248.7 L1456.4,1248.2 L1456.7,1251.5 L1457.0,1250.2 L1457.3,1249.7 L1457.6,1248.3 L1457.9,1251.3 L1458.2,1248.3 L1458.5,1248.7 L1458.8,1250.5 L1459.1,1251.4 L1459.4,1253.0 L1459.7,1251.7 L1460.0,1252.9 L1460.3,1252.7 L1460.6,1251.6 L1460.9,1251.6 L1461.2,1247.6 L1461.5,1248.5 L1461.8,1247.4 L1462.1,1252.5 L1462.4,1251.6 L1462.7,1251.1 L1463.0,1248.9 L1463.3,1249.4 L1463.6,1248.3 L1463.9,1251.1 L1464.2,1253.3 L1464.5,1249.2 L1464.8,1247.6 L1465.1,1248.4 L1465.4,1249.5 L1465.7,1252.7 L1466.0,1252.1 L1466.3,1250.0 L1466.6,1247.9 L1466.9,1247.9 L1467.2,1248.2 L1467.5,1252.0 L1467.8,1250.1 L1468.1,1253.2 L1468.4,1252.7 L1468.7,1252.0 L1469.0,1250.1 L1469.3,1252.2 L1469.6,1248.0 L1469.9,1247.8 L1470.2,1250.5 L1470.5,1250.2 L1470.8,1248.4 L1471.1,1248.6 L1471.4,1247.2 L1471.7,1252.4 L1472.0,1251.2 L1472.3,1252.5 L1472.6,1252.7 L1472.9,1249.3 L1473.2,1251.0 L1473.5,1248.8 L1473.8,1251.2 L1474.1,1251.1 L1474.4,1246.6 L1474.7,1245.6 L1475.0,1246.3 L1475.3,1248.0 L1475.6,1246.1 L1475.9,1243.1 L1476.2,1247.2 L1476.5,1245.9 L1476.8,1242.8 L1477.1,1239.1 L1477.4,1243.0 L1477.7,1239.8 L1478.0,1236.2 L1478.3,1237.4 L1478.6,1239.2 L1478.9,1241.3 L1479.2,1239.8 L1479.5,1241.8 L1479.8,1240.3 L1480.1,1241.7 L1480.4,1246.8 L1480.7,1244.6 L1481.0,1243.8 L1481.3,1247.4 L1481.6,1245.2 L1481.9,1246.1 L1482.2,1248.0 L1482.5,1249.1 L1482.8,1249.6 L1483.1,1250.2 L1483.4,1248.7 L1483.7,1246.5 L1484.0,1250.5 L1484.3,1246.5 L1484.6,1249.0 L1484.9,1248.6 L1485.2,1250.2 L1485.5,1250.5 L1485.8,1247.6 L1486.1,1250.0 L1486.4,1250.2 L1486.7,1248.8 L1487.0,1246.7 L1487.3,1251.2 L1487.6,1249.2 L1487.9,1245.8 L1488.2,1246.7 L1488.5,1251.0 L1488.8,1246.2 L1489.1,1247.0 L1489.4,1249.0 L1489.7,1248.9 L1490.0,1247.3 L1490.3,1247.5 L1490.6,1242.6 L1490.9,1242.1 L1491.2,1246.3 L1491.5,1243.9 L1491.8,1237.5 L1492.1,1235.1 L1492.4,1233.2 L1492.7,1233.5 L1493.0,1224.5 L1493.3,1221.5 L1493.6,1216.5 L1493.9,1207.5 L1494.2,1201.6 L1494.5,1190.4 L1494.8,1183.8 L1495.1,1179.3 L1495.4,1183.1 L1495.7,1182.0 L1496.0,1192.5 L1496.3,1197.9 L1496.6,1202.4 L1496.9,1213.5 L1497.2,1216.5 L1497.5,1224.6 L1497.8,1227.2 L1498.1,1235.4 L1498.4,1239.4 L1498.7,1242.2 L1499.0,1238.7 L1499.3,1245.3 L1499.6,1244.7 L1499.9,1247.3 L1500.2,1246.1 L1500.5,1247.4 L1500.8,1247.7 L1501.1,1249.3 L1501.4,1245.3 L1501.7,1245.5 L1502.0,1248.7 L1502.3,1247.4 L1502.6,1248.2 L1502.9,1246.1 L1503.2,1250.6 L1503.5,1246.5 L1503.8,1251.4 L1504.1,1251.4 L1504.4,1249.4 L1504.7,1247.5 L1505.0,1250.8 L1505.3,1248.2 L1505.6,1249.6 L1505.9,1247.8 L1506.2,1253.0 L1506.5,1250.5 L1506.8,1249.4 L1507.1,1247.9 L1507.4,1251.8 L1507.7,1252.5 L1508.0,1252.6 L1508.3,1248.1 L1508.6,1249.7 L1508.9,1249.4 L1509.2,1252.2 L1509.5,1248.5 L1509.8,1251.3 L1510.1,1253.6 L1510.4,1252.3 L1510.7,1247.8 L1511.0,1248.2 L1511.3,1248.5 L1511.6,1252.0 L1511.9,1251.4 L1512.2,1251.0 L1512.5,1250.6 L1512.8,1250.3 L1513.1,1251.6 L1513.4,1251.8 L1513.7,1253.4 L1514.0,1252.3 L1514.3,1252.7 L1514.6,1253.4 L1514.9,1253.0 L1515.2,1252.3 L1515.5,1248.2 L1515.8,1252.1 L1516.1,1253.1 L1516.4,1250.6 L1516.7,1253.3 L1517.0,1249.1 L1517.3,1253.7 L1517.6,1250.7 L1517.9,1252.3 L1518.2,1249.6 L1518.5,1249.9 L1518.8,1250.2 L1519.1,1250.0 L1519.4,1248.6 L1519.7,1250.7 L1520.0,1254.0 L1520.3,1252.0 L1520.6,1253.7 L1520.9,1252.7 L1521.2,1253.1 L1521.5,1254.1 L1521.8,1252.6 L1522.1,1249.7 L1522.4,1249.6 L1522.7,1250.6 L1523.0,1248.2 L1523.3,1249.5 L1523.6,1253.4 L1523.9,1253.6 L1524.2,1250.0 L1524.5,1252.7 L1524.8,1252.7 L1525.1,1253.4 L1525.4,1252.8 L1525.7,1251.2 L1526.0,1248.6 L1526.3,1252.9 L1526.6,1249.9 L1526.9,1251.7 L1527.2,1250.2 L1527.5,1251.2 L1527.8,1253.7 L1528.1,1248.9 L1528.4,1251.1 L1528.7,1251.7 L1529.0,1251.1 L1529.3,1253.4 L1529.6,1250.2 L1529.9,1253.2 L1530.2,1251.8 L1530.5,1253.4 L1530.8,1248.1 L1531.1,1248.8 L1531.4,1249.2 L1531.7,1252.8 L1532.0,1247.4 L1532.3,1248.7 L1532.6,1251.4 L1532.9,1252.9 L1533.2,1247.8 L1533.5,1249.3 L1533.8,1250.6 L1534.1,1250.4 L1534.4,1250.5 L1534.7,1250.3 L1535.0,1246.9 L1535.3,1246.7 L1535.6,1245.0 L1535.9,1248.6 L1536.2,1245.2 L1536.5,1245.1 L1536.8,1248.9 L1537.1,1246.4 L1537.4,1245.6 L1537.7,1245.4 L1538.0,1244.5 L1538.3,1244.5 L1538.6,1241.6 L1538.9,1239.6 L1539.2,1239.1 L1539.5,1238.2 L1539.8,1239.9 L1540.1,1238.2 L1540.4,1237.8 L1540.7,1239.9 L1541.0,1242.7 L1541.3,1241.0 L1541.6,1238.7 L1541.9,1242.0 L1542.2,1238.8 L1542.5,1238.8 L1542.8,1240.5 L1543.1,1241.7 L1543.4,1244.0 L1543.7,1243.1 L1544.0,1245.4 L1544.3,1242.1 L1544.6,1247.7 L1544.9,1244.7 L1545.2,1248.2 L1545.5,1243.9 L1545.8,1249.1 L1546.1,1245.9 L1546.4,1250.1 L1546.7,1250.1 L1547.0,1249.6 L1547.3,1247.6 L1547.6,1246.2 L1547.9,1247.6 L1548.2,1252.1 L1548.5,1247.8 L1548.8,1251.0 L1549.1,1250.7 L1549.4,1251.3 L1549.7,1248.5 L1550.0,1248.4 L1550.3,1248.2 L1550.6,1253.6 L1550.9,1250.1 L1551.2,1251.8 L1551.5,1251.3 L1551.8,1249.3 L1552.1,1248.4 L1552.4,1248.2 L1552.7,1253.2 L1553.0,1249.0 L1553.3,1254.0 L1553.6,1250.4 L1553.9,1252.6 L1554.2,1249.1 L1554.5,1253.1 L1554.8,1249.9 L1555.1,1250.6 L1555.4,1251.5 L1555.7,1249.1 L1556.0,1249.9 L1556.3,1253.3 L1556.6,1250.2 L1556.9,1250.8 L1557.2,1253.1 L1557.5,1249.9 L1557.8,1249.7 L1558.1,1249.9 L1558.4,1250.9 L1558.7,1250.8 L1559.0,1252.5 L1559.3,1251.5 L1559.6,1253.9 L1559.9,1249.0 L1560.2,1252.7 L1560.5,1253.7 L1560.8,1250.1 L1561.1,1248.9 L1561.4,1251.4 L1561.7,1249.4 L1562.0,1251.5 L1562.3,1253.0 L1562.6,1249.3 L1562.9,1249.5 L1563.2,1251.7 L1563.5,1249.8 L1563.8,1250.2 L1564.1,1251.5 L1564.4,1249.5 L1564.7,1249.2 L1565.0,1251.0 L1565.3,1251.7 L1565.6,1254.5 L1565.9,1252.2 L1566.2,1249.3 L1566.5,1250.2 L1566.8,1253.3 L1567.1,1252.3 L1567.4,1254.1 L1567.7,1254.7 L1568.0,1254.1 L1568.3,1249.6 L1568.6,1254.6 L1568.9,1252.1 L1569.2,1250.4 L1569.5,1250.0 L1569.8,1254.1 L1570.1,1250.2 L1570.4,1249.5 L1570.7,1250.6 L1571.0,1254.5 L1571.3,1251.7 L1571.6,1253.4 L1571.9,1249.4 L1572.2,1251.7 L1572.5,1250.9 L1572.8,1250.2 L1573.1,1253.0 L1573.4,1251.2 L1573.7,1249.7 L1574.0,1254.9 L1574.3,1251.9 L1574.6,1250.1 L1574.9,1249.1 L1575.2,1253.0 L1575.5,1252.1 L1575.8,1249.2 L1576.1,1251.9 L1576.4,1253.5 L1576.7,1252.3 L1577.0,1250.5 L1577.3,1252.1 L1577.6,1252.7 L1577.9,1253.0 L1578.2,1250.0 L1578.5,1253.9 L1578.8,1254.8 L1579.1,1253.5 L1579.4,1254.2 L1579.7,1251.3 L1580.0,1254.5 L1580.3,1250.2 L1580.6,1250.5 L1580.9,1252.7 L1581.2,1254.5 L1581.5,1249.6 L1581.8,1250.4 L1582.1,1249.3 L1582.4,1251.7 L1582.7,1249.9 L1583.0,1250.2 L1583.3,1253.5 L1583.6,1252.5 L1583.9,1254.7 L1584.2,1251.4 L1584.5,1253.1 L1584.8,1249.1 L1585.1,1254.7 L1585.4,1250.4 L1585.7,1251.9 L1586.0,1252.1 L1586.3,1254.7 L1586.6,1251.9 L1586.9,1254.9 L1587.2,1252.7 L1587.5,1250.3 L1587.8,1254.0 L1588.1,1250.2 L1588.4,1254.9 L1588.7,1251.7 L1589.0,1250.3 L1589.3,1254.7 L1589.6,1250.9 L1589.9,1251.4 L1590.2,1251.0 L1590.5,1252.9 L1590.8,1249.0 L1591.1,1251.1 L1591.4,1249.9 L1591.7,1253.8 L1592.0,1248.9 L1592.3,1252.5 L1592.6,1250.4 L1592.9,1251.6 L1593.2,1252.2 L1593.5,1253.1 L1593.8,1249.6 L1594.1,1250.2 L1594.4,1249.5 L1594.7,1254.5 L1595.0,1249.7 L1595.3,1249.6 L1595.6,1251.9 L1595.9,1252.2 L1596.2,1254.1 L1596.5,1249.1 L1596.8,1250.1 L1597.1,1249.7 L1597.4,1252.2 L1597.7,1251.4 L1598.0,1251.1 L1598.3,1254.0 L1598.6,1252.6 L1598.9,1253.8 L1599.2,1254.3 L1599.5,1250.2 L1599.8,1254.2 L1600.1,1251.0 L1600.4,1248.8 L1600.7,1254.0 L1601.0,1249.1 L1601.3,1248.6 L1601.6,1250.2 L1601.9,1250.1 L1602.2,1254.2 L1602.5,1253.6 L1602.8,1250.8 L1603.1,1251.5 L1603.4,1253.3 L1603.7,1253.0 L1604.0,1252.1 L1604.3,1251.2 L1604.6,1248.8 L1604.9,1249.5 L1605.2,1251.9 L1605.5,1251.4 L1605.8,1252.6 L1606.1,1253.1 L1606.4,1253.4 L1606.7,1248.7 L1607.0,1247.9 L1607.3,1252.7 L1607.6,1250.6 L1607.9,1248.1 L1608.2,1250.9 L1608.5,1248.0 L1608.8,1247.6 L1609.1,1248.0 L1609.4,1248.4 L1609.7,1248.7 L1610.0,1244.3 L1610.3,1247.4 L1610.6,1245.6 L1610.9,1243.4 L1611.2,1243.1 L1611.5,1242.2 L1611.8,1235.6 L1612.1,1236.4 L1612.4,1235.6 L1612.7,1233.8 L1613.0,1231.8 L1613.3,1227.8 L1613.6,1231.8 L1613.9,1230.9 L1614.2,1228.4 L1614.5,1231.0 L1614.8,1235.9 L1615.1,1233.4 L1615.4,1236.6 L1615.7,1241.9 L1616.0,1243.3 L1616.3,1240.9 L1616.6,1245.4 L1616.9,1244.3 L1617.2,1247.2 L1617.5,1248.7 L1617.8,1245.5 L1618.1,1246.7 L1618.4,1247.1 L1618.7,1247.7 L1619.0,1246.6 L1619.3,1247.5 L1619.6,1249.3 L1619.9,1249.5 L1620.2,1247.6 L1620.5,1250.8 L1620.8,1253.0 L1621.1,1250.9 L1621.4,1249.7 L1621.7,1251.8 L1622.0,1250.3 L1622.3,1248.8 L1622.6,1250.6 L1622.9,1247.9 L1623.2,1251.9 L1623.5,1248.8 L1623.8,1250.1 L1624.1,1253.7 L1624.4,1252.6 L1624.7,1253.0 L1625.0,1251.9 L1625.3,1251.8 L1625.6,1252.3 L1625.9,1253.9 L1626.2,1249.2 L1626.5,1252.7 L1626.8,1249.9 L1627.1,1249.6 L1627.4,1253.0 L1627.7,1251.7 L1628.0,1253.2 L1628.3,1253.4 L1628.6,1251.7 L1628.9,1249.3 L1629.2,1248.3 L1629.5,1251.4 L1629.8,1252.5 L1630.1,1249.8 L1630.4,1248.6 L1630.7,1248.2 L1631.0,1249.2 L1631.3,1252.4 L1631.6,1248.2 L1631.9,1249.6 L1632.2,1249.8 L1632.5,1252.5 L1632.8,1254.1 L1633.1,1248.3 L1633.4,1248.9 L1633.7,1253.8 L1634.0,1254.0 L1634.3,1249.1 L1634.6,1250.2 L1634.9,1251.3 L1635.2,1250.1 L1635.5,1250.7 L1635.8,1251.1 L1636.1,1249.7 L1636.4,1248.5 L1636.7,1248.7 L1637.0,1249.2 L1637.3,1248.7 L1637.6,1251.9 L1637.9,1252.4 L1638.2,1249.7 L1638.5,1252.9 L1638.8,1252.5 L1639.1,1250.2 L1639.4,1251.1 L1639.7,1249.3 L1640.0,1253.7 L1640.3,1251.5 L1640.6,1248.5 L1640.9,1249.1 L1641.2,1252.3 L1641.5,1250.5 L1641.8,1252.4 L1642.1,1249.5 L1642.4,1252.9 L1642.7,1252.9 L1643.0,1248.7 L1643.3,1251.6 L1643.6,1249.3 L1643.9,1252.4 L1644.2,1252.9 L1644.5,1252.9 L1644.8,1249.5 L1645.1,1248.7 L1645.4,1252.1 L1645.7,1251.5 L1646.0,1248.9 L1646.3,1249.2 L1646.6,1251.6 L1646.9,1248.7 L1647.2,1251.9 L1647.5,1249.5 L1647.8,1249.6 L1648.1,1250.6 L1648.4,1251.3 L1648.7,1252.4 L1649.0,1248.2 L1649.3,1252.4 L1649.6,1249.4 L1649.9,1249.8 L1650.2,1251.9 L1650.5,1252.2 L1650.8,1251.7 L1651.1,1253.4 L1651.4,1249.2 L1651.7,1249.9 L1652.0,1252.0 L1652.3,1249.6 L1652.6,1248.9 L1652.9,1249.3 L1653.2,1252.6 L1653.5,1252.9 L1653.8,1252.3 L1654.1,1253.7 L1654.4,1252.7 L1654.7,1249.8 L1655.0,1249.8 L1655.3,1252.3 L1655.6,1248.3 L1655.9,1251.6 L1656.2,1248.5 L1656.5,1248.2 L1656.8,1251.0 L1657.1,1248.8 L1657.4,1253.5 L1657.7,1253.2 L1658.0,1250.7 L1658.3,1249.1 L1658.6,1248.6 L1658.9,1250.9 L1659.2,1251.0 L1659.5,1250.1 L1659.8,1252.2 L1660.1,1251.0 L1660.4,1252.5 L1660.7,1248.5 L1661.0,1248.3 L1661.3,1250.2 L1661.6,1250.8 L1661.9,1249.4 L1662.2,1251.9 L1662.5,1249.2 L1662.8,1249.8 L1663.1,1250.7 L1663.4,1252.1 L1663.7,1252.5 L1664.0,1250.1 L1664.3,1250.5 L1664.6,1253.4 L1664.9,1253.5 L1665.2,1251.6 L1665.5,1248.5 L1665.8,1250.6 L1666.1,1251.7 L1666.4,1249.5 L1666.7,1248.1 L1667.0,1253.7 L1667.3,1253.3 L1667.6,1248.6 L1667.9,1250.6 L1668.2,1251.6 L1668.5,1249.7 L1668.8,1248.3 L1669.1,1252.4 L1669.4,1252.5 L1669.7,1250.5 L1670.0,1248.4 L1670.3,1250.2 L1670.6,1248.4 L1670.9,1253.6 L1671.2,1248.1 L1671.5,1249.6 L1671.8,1252.4 L1672.1,1248.6 L1672.4,1248.5 L1672.7,1248.3 L1673.0,1248.8 L1673.3,1251.0 L1673.6,1252.8 L1673.9,1248.8 L1674.2,1248.9 L1674.5,1252.4 L1674.8,1250.4 L1675.1,1249.8 L1675.4,1248.6 L1675.7,1249.3 L1676.0,1253.6 L1676.3,1248.5 L1676.6,1249.4 L1676.9,1252.2 L1677.2,1253.1 L1677.5,1253.2 L1677.8,1250.6 L1678.1,1253.5 L1678.4,1251.4 L1678.7,1249.5 L1679.0,1250.6 L1679.3,1252.1 L1679.6,1252.2 L1679.9,1248.5 L1680.2,1248.9 L1680.5,1253.5 L1680.8,1248.4 L1681.1,1252.6 L1681.4,1249.8 L1681.7,1249.2 L1682.0,1249.3 L1682.3,1250.5 L1682.6,1253.7 L1682.9,1248.6 L1683.2,1252.8 L1683.5,1249.6 L1683.8,1248.7 L1684.1,1252.1 L1684.4,1249.7 L1684.7,1248.8 L1685.0,1250.1 L1685.3,1252.6 L1685.6,1252.8 L1685.9,1251.0 L1686.2,1247.6 L1686.5,1252.1 L1686.8,1251.2 L1687.1,1252.9 L1687.4,1253.2 L1687.7,1249.5 L1688.0,1252.6 L1688.3,1252.4 L1688.6,1249.0 L1688.9,1249.6 L1689.2,1249.6 L1689.5,1249.4 L1689.8,1249.5 L1690.1,1247.9 L1690.4,1248.5 L1690.7,1252.5 L1691.0,1249.5 L1691.3,1250.7 L1691.6,1252.2 L1691.9,1251.2 L1692.2,1248.0 L1692.5,1251.9 L1692.8,1251.0 L1693.1,1251.8 L1693.4,1249.8 L1693.7,1249.3 L1694.0,1248.9 L1694.3,1244.6 L1694.6,1245.8 L1694.9,1242.6 L1695.2,1243.6 L1695.5,1237.4 L1695.8,1237.9 L1696.1,1235.0 L1696.4,1236.8 L1696.7,1233.7 L1697.0,1237.4 L1697.3,1238.8 L1697.6,1240.7 L1697.9,1238.1 L1698.2,1244.6 L1698.5,1244.8 L1698.8,1245.6 L1699.1,1246.3 L1699.4,1243.2 L1699.7,1248.5 L1700.0,1246.6 L1700.3,1245.8 L1700.6,1244.7 L1700.9,1246.6 L1701.2,1245.7 L1701.5,1245.2 L1701.8,1240.2 L1702.1,1240.0 L1702.4,1238.8 L1702.7,1237.8 L1703.0,1239.7 L1703.3,1238.8 L1703.6,1244.5 L1703.9,1242.2 L1704.2,1242.3 L1704.5,1243.1 L1704.8,1247.8 L1705.1,1245.1 L1705.4,1247.1 L1705.7,1247.0 L1706.0,1249.6 L1706.3,1250.6 L1706.6,1246.8 L1706.9,1248.8 L1707.2,1250.4 L1707.5,1247.8 L1707.8,1250.4 L1708.1,1249.4 L1708.4,1246.8 L1708.7,1250.2 L1709.0,1248.4 L1709.3,1245.6 L1709.6,1248.4 L1709.9,1249.8 L1710.2,1247.9 L1710.5,1247.6 L1710.8,1247.2 L1711.1,1249.9 L1711.4,1248.5 L1711.7,1245.6 L1712.0,1246.5 L1712.3,1246.4 L1712.6,1249.8 L1712.9,1248.1 L1713.2,1244.5 L1713.5,1249.1 L1713.8,1243.6 L1714.1,1246.8 L1714.4,1245.6 L1714.7,1247.1 L1715.0,1245.2 L1715.3,1243.0 L1715.6,1245.3 L1715.9,1246.9 L1716.2,1246.5 L1716.5,1243.7 L1716.8,1242.6 L1717.1,1245.6 L1717.4,1245.7 L1717.7,1242.0 L1718.0,1245.8 L1718.3,1246.3 L1718.6,1242.9 L1718.9,1242.5 L1719.2,1244.4 L1719.5,1245.7 L1719.8,1241.4 L1720.1,1242.0 L1720.4,1242.3 L1720.7,1244.8 L1721.0,1241.7 L1721.3,1244.0 L1721.6,1243.9 L1721.9,1245.1 L1722.2,1242.1 L1722.5,1247.2 L1722.8,1247.7 L1723.1,1245.2 L1723.4,1246.8 L1723.7,1243.3 L1724.0,1247.9 L1724.3,1245.9 L1724.6,1247.3 L1724.9,1248.1 L1725.2,1245.2 L1725.5,1248.7 L1725.8,1244.5 L1726.1,1243.5 L1726.4,1246.5 L1726.7,1248.9 L1727.0,1249.0 L1727.3,1249.3 L1727.6,1246.7 L1727.9,1249.2 L1728.2,1246.9 L1728.5,1244.4 L1728.8,1247.2 L1729.1,1248.1 L1729.4,1245.6 L1729.7,1246.5 L1730.0,1244.2 L1730.3,1243.9 L1730.6,1244.4 L1730.9,1244.5 L1731.2,1243.7 L1731.5,1240.8 L1731.8,1239.6 L1732.1,1240.9 L1732.4,1242.3 L1732.7,1241.6 L1733.0,1237.5 L1733.3,1236.6 L1733.6,1237.2 L1733.9,1234.1 L1734.2,1235.7 L1734.5,1236.7 L1734.8,1231.8 L1735.1,1233.6 L1735.4,1234.2 L1735.7,1234.4 L1736.0,1234.5 L1736.3,1235.0 L1736.6,1233.1 L1736.9,1237.4 L1737.2,1238.9 L1737.5,1234.7 L1737.8,1241.1 L1738.1,1239.1 L1738.4,1237.9 L1738.7,1238.7 L1739.0,1243.9 L1739.3,1243.9 L1739.6,1241.4 L1739.9,1243.9 L1740.2,1245.4 L1740.5,1248.0 L1740.8,1244.4 L1741.1,1247.3 L1741.4,1244.4 L1741.7,1244.3 L1742.0,1244.2 L1742.3,1245.8 L1742.6,1247.1 L1742.9,1245.2 L1743.2,1244.2 L1743.5,1244.5 L1743.8,1243.5 L1744.1,1243.9 L1744.4,1244.3 L1744.7,1245.0 L1745.0,1242.6 L1745.3,1243.9 L1745.6,1243.0 L1745.9,1245.5 L1746.2,1241.9 L1746.5,1243.9 L1746.8,1240.3 L1747.1,1238.0 L1747.4,1239.8 L1747.7,1236.7 L1748.0,1236.7 L1748.3,1236.2 L1748.6,1240.2 L1748.9,1242.3 L1749.2,1239.6 L1749.5,1240.1 L1749.8,1241.3 L1750.1,1241.7 L1750.4,1244.5 L1750.7,1243.4 L1751.0,1242.6 L1751.3,1247.5 L1751.6,1246.2 L1751.9,1243.3 L1752.2,1248.8 L1752.5,1248.4 L1752.8,1246.5 L1753.1,1248.4 L1753.4,1250.4 L1753.7,1247.5 L1754.0,1247.8 L1754.3,1247.2 L1754.6,1248.9 L1754.9,1249.6 L1755.2,1250.2 L1755.5,1251.6 L1755.8,1246.8 L1756.1,1248.2 L1756.4,1251.2 L1756.7,1251.0 L1757.0,1249.8 L1757.3,1250.4 L1757.6,1248.5 L1757.9,1252.2 L1758.2,1249.9 L1758.5,1249.1 L1758.8,1247.8 L1759.1,1247.5 L1759.4,1252.2 L1759.7,1251.7 L1760.0,1247.1 L1760.3,1249.0 L1760.6,1250.0 L1760.9,1250.1 L1761.2,1249.4 L1761.5,1252.6 L1761.8,1249.4 L1762.1,1250.5 L1762.4,1253.0 L1762.7,1251.3 L1763.0,1250.4 L1763.3,1249.6 L1763.6,1249.9 L1763.9,1251.3 L1764.2,1252.3 L1764.5,1249.1 L1764.8,1249.7 L1765.1,1249.7 L1765.4,1249.4 L1765.7,1252.6 L1766.0,1250.3 L1766.3,1248.6 L1766.6,1248.9 L1766.9,1251.7 L1767.2,1247.6 L1767.5,1250.7 L1767.8,1246.6 L1768.1,1247.6 L1768.4,1246.7 L1768.7,1251.0 L1769.0,1247.0 L1769.3,1247.4" fill="none" stroke="#000" stroke-width="3.4" stroke-linejoin="miter" stroke-miterlimit="2"/>
<path d="M259.6,761.7H263.6V909.0H259.6ZM257.2,909.0H263.6V1022.4H257.2ZM257.2,1022.4H265.6V1179.0H257.2ZM255.5,1179.0H259.6V1225.0H255.5ZM261.2,1179.0H265.6V1225.0H261.2ZM253.0,1225.0H257.0V1234.0H253.0ZM263.6,1225.0H267.7V1234.0H263.6ZM497.0,1002.6H500.9V1040.6H497.0ZM497.0,1040.6H502.9V1056.6H497.0ZM495.0,1056.6H502.9V1175.4H495.0ZM492.9,1175.4H496.7V1199.3H492.9ZM499.1,1175.4H502.8V1199.3H499.1ZM492.9,1199.3H496.7V1231.0H492.9ZM500.8,1199.3H504.9V1231.0H500.8ZM490.9,1231.0H494.7V1236.8H490.9ZM500.8,1231.0H504.9V1236.8H500.8ZM503.2,1232.7H506.9V1238.8H503.2ZM550.7,388.1H554.9V621.0H550.7ZM550.7,621.0H556.8V749.0H550.7ZM549.0,749.0H556.8V1125.9H549.0ZM549.3,1125.9H552.6V1132.0H549.3ZM555.0,1125.9H558.7V1132.0H555.0ZM547.0,1132.0H550.7V1201.7H547.0ZM555.0,1132.0H558.7V1201.7H555.0ZM547.0,1201.7H550.7V1216.8H547.0ZM556.8,1201.7H560.6V1216.8H556.8ZM545.0,1216.8H548.8V1221.0H545.0ZM556.8,1216.8H560.6V1221.0H556.8ZM545.0,1221.0H548.8V1226.6H545.0ZM558.7,1221.0H562.5V1226.6H558.7ZM545.0,1226.6H548.8V1230.9H545.0ZM561.0,1226.6H564.8V1230.9H561.0ZM561.0,1230.9H564.8V1232.8H561.0ZM563.0,1232.8H566.7V1240.8H563.0ZM586.7,924.6H590.7V966.3H586.7ZM586.7,966.3H592.5V1010.2H586.7ZM584.5,1010.2H592.5V1161.0H584.5ZM582.8,1161.0H587.1V1222.0H582.8ZM589.3,1161.0H594.0V1222.0H589.3ZM581.0,1222.0H585.0V1230.0H581.0ZM589.3,1222.0H594.0V1230.0H589.3ZM591.5,1227.0H595.5V1233.0H591.5ZM849.9,718.2H853.8V891.0H849.9ZM848.1,891.0H853.8V903.5H848.1ZM848.1,903.5H855.9V1115.6H848.1ZM848.0,1115.6H851.8V1139.9H848.0ZM854.0,1115.6H857.7V1139.9H854.0ZM838.2,1139.9H841.6V1143.8H838.2ZM848.0,1139.9H851.8V1143.8H848.0ZM854.0,1139.9H857.7V1143.8H854.0ZM838.2,1143.8H844.0V1167.0H838.2ZM848.0,1143.8H851.8V1167.0H848.0ZM854.0,1143.8H857.7V1167.0H854.0ZM838.2,1167.0H844.0V1172.0H838.2ZM846.0,1167.0H851.8V1172.0H846.0ZM854.0,1167.0H857.7V1172.0H854.0ZM836.3,1172.0H844.0V1181.2H836.3ZM846.0,1172.0H851.8V1181.2H846.0ZM854.0,1172.0H857.7V1181.2H854.0ZM836.3,1181.2H839.7V1216.7H836.3ZM842.1,1181.2H851.8V1216.7H842.1ZM854.0,1181.2H857.7V1216.7H854.0ZM834.3,1216.7H837.7V1224.5H834.3ZM842.1,1216.7H851.8V1224.5H842.1ZM854.0,1216.7H857.7V1224.5H854.0ZM834.3,1224.5H837.7V1226.5H834.3ZM844.0,1224.5H848.0V1226.5H844.0ZM854.0,1224.5H857.7V1226.5H854.0ZM834.3,1226.5H837.7V1232.8H834.3ZM844.0,1226.5H848.0V1232.8H844.0ZM856.2,1226.5H859.6V1232.8H856.2ZM832.4,1232.8H836.0V1238.0H832.4ZM856.2,1232.8H859.6V1238.0H856.2ZM858.2,1238.0H862.0V1242.5H858.2Z" fill="#000"/>
<rect x="194" y="28.5" width="1577.5" height="1266.5" fill="none" stroke="#000" stroke-width="4"/>
<path d="M194.0,1297 V1322.6 M305.2,1297 V1310.8 M419.0,1297 V1322.6 M530.9,1297 V1310.8 M644.5,1297 V1322.6 M756.2,1297 V1310.8 M869.9,1297 V1322.6 M981.7,1297 V1310.8 M1095.0,1297 V1322.6 M1207.0,1297 V1310.8 M1320.8,1297 V1322.6 M1432.3,1297 V1310.8 M1545.9,1297 V1322.6 M1658.0,1297 V1310.8 M1771.5,1297 V1322.6" stroke="#000" stroke-width="4" fill="none"/>
<text transform="translate(194.0,1393.8) scale(1,1.0)" x="-38.7 0.0" y="0" font-size="72.5" fill="#000"><tspan font-family="NanumGothic,Liberation Sans,sans-serif" font-size="67.2" stroke="#000" stroke-width="1.3">1</tspan>0</text>
<text transform="translate(419.0,1393.8) scale(1,1.0)" font-size="72.5" fill="#000" text-anchor="middle">20</text>
<text transform="translate(644.5,1393.8) scale(1,1.0)" font-size="72.5" fill="#000" text-anchor="middle">30</text>
<text transform="translate(869.9,1393.8) scale(1,1.0)" font-size="72.5" fill="#000" text-anchor="middle">40</text>
<text transform="translate(1095.0,1393.8) scale(1,1.0)" font-size="72.5" fill="#000" text-anchor="middle">50</text>
<text transform="translate(1320.8,1393.8) scale(1,1.0)" font-size="72.5" fill="#000" text-anchor="middle">60</text>
<text transform="translate(1545.9,1393.8) scale(1,1.0)" font-size="72.5" fill="#000" text-anchor="middle">70</text>
<text transform="translate(1771.5,1393.8) scale(1,1.0)" font-size="72.5" fill="#000" text-anchor="middle">80</text>
<text transform="translate(1013.5,1498.0) scale(1,1.016)" font-size="84.8" fill="#000" text-anchor="middle">2-Theta (degree)</text>
<text transform="translate(91.8,632.3) rotate(-90) scale(1,1.04)" font-size="89.2" fill="#000" text-anchor="middle">Intensity (a.u.)</text>
<path d="M733,121.7 H881.5" stroke="#000" stroke-width="3"/>
<text transform="translate(898.8,144) scale(1,1.04)" font-size="72.4" fill="#000">Target nano-Al/MoO<tspan font-size="44" dy="24.5">3</tspan><tspan dy="-24.5"> MIC</tspan></text>
<text transform="translate(830.1,245) scale(1,1.04)" font-size="66" fill="#00f">PDF# Card No. 04-0787 for Al</text>
<text transform="translate(753.6,332.7) scale(1,1.04)" font-size="66.15" fill="#f00">PDF# Card No. 35-0609 for MoO<tspan font-size="38" dy="21">3</tspan></text>
<text transform="translate(286.6,598.8) rotate(-90) scale(1,1.01)" x="-78.2 -55.9 -18.6 18.6 55.9" y="0" font-size="67" fill="#f00">(020)</text>
<text transform="translate(568.0,274.7) rotate(-90) scale(1,1.01)" x="-78.2 -54.4 -18.6 18.6 55.9" y="0" font-size="67" fill="#f00">(<tspan font-family="NanumGothic,Liberation Sans,sans-serif" font-size="62.1" stroke="#f00" stroke-width="1.3">1</tspan>20)</text>
<text transform="translate(513.8,895.5) rotate(-90) scale(1,1.01)" x="-78.2 -54.4 -17.2 18.6 55.9" y="0" font-size="67" fill="#f00">(<tspan font-family="NanumGothic,Liberation Sans,sans-serif" font-size="62.1" stroke="#f00" stroke-width="1.3">1</tspan><tspan font-family="NanumGothic,Liberation Sans,sans-serif" font-size="62.1" stroke="#f00" stroke-width="1.3">1</tspan>0)</text>
<text transform="translate(626.0,849.4) rotate(-90) scale(1,1.01)" x="-78.2 -55.9 -18.6 20.1 55.9" y="0" font-size="67" fill="#f00">(02<tspan font-family="NanumGothic,Liberation Sans,sans-serif" font-size="62.1" stroke="#f00" stroke-width="1.3">1</tspan>)</text>
<text transform="translate(686.2,1123.6) rotate(-90) scale(1,1.01)" x="-78.2 -54.4 -18.6 18.6 55.9" y="0" font-size="67" fill="#f00">(<tspan font-family="NanumGothic,Liberation Sans,sans-serif" font-size="62.1" stroke="#f00" stroke-width="1.3">1</tspan>30)</text>
<text transform="translate(729.2,934.8) rotate(-90) scale(1,1.01)" x="-78.2 -54.4 -18.6 20.1 55.9" y="0" font-size="67" fill="#f00">(<tspan font-family="NanumGothic,Liberation Sans,sans-serif" font-size="62.1" stroke="#f00" stroke-width="1.3">1</tspan>0<tspan font-family="NanumGothic,Liberation Sans,sans-serif" font-size="62.1" stroke="#f00" stroke-width="1.3">1</tspan>)</text>
<text transform="translate(765.1,763.8) rotate(-90) scale(1,1.01)" x="-78.2 -54.4 -17.2 20.1 55.9" y="0" font-size="67" fill="#f00">(<tspan font-family="NanumGothic,Liberation Sans,sans-serif" font-size="62.1" stroke="#f00" stroke-width="1.3">1</tspan><tspan font-family="NanumGothic,Liberation Sans,sans-serif" font-size="62.1" stroke="#f00" stroke-width="1.3">1</tspan><tspan font-family="NanumGothic,Liberation Sans,sans-serif" font-size="62.1" stroke="#f00" stroke-width="1.3">1</tspan>)</text>
<text transform="translate(803.2,1054.0) rotate(-90) scale(1,1.01)" x="-78.2 -55.9 -18.6 20.1 55.9" y="0" font-size="67" fill="#f00">(04<tspan font-family="NanumGothic,Liberation Sans,sans-serif" font-size="62.1" stroke="#f00" stroke-width="1.3">1</tspan>)</text>
<text transform="translate(834.9,823.5) rotate(-90) scale(1,1.01)" x="-78.2 -54.4 -18.6 20.1 55.9" y="0" font-size="67" fill="#f00">(<tspan font-family="NanumGothic,Liberation Sans,sans-serif" font-size="62.1" stroke="#f00" stroke-width="1.3">1</tspan>3<tspan font-family="NanumGothic,Liberation Sans,sans-serif" font-size="62.1" stroke="#f00" stroke-width="1.3">1</tspan>)</text>
<text transform="translate(871.4,604.7) rotate(-90) scale(1,1.01)" x="-78.2 -54.4 -17.2 20.1 55.9" y="0" font-size="67" fill="#00f">(<tspan font-family="NanumGothic,Liberation Sans,sans-serif" font-size="62.1" stroke="#00f" stroke-width="1.3">1</tspan><tspan font-family="NanumGothic,Liberation Sans,sans-serif" font-size="62.1" stroke="#00f" stroke-width="1.3">1</tspan><tspan font-family="NanumGothic,Liberation Sans,sans-serif" font-size="62.1" stroke="#00f" stroke-width="1.3">1</tspan>)</text>
<text transform="translate(910.4,994.7) rotate(-90) scale(1,1.01)" x="-78.2 -55.9 -18.6 18.6 55.9" y="0" font-size="67" fill="#f00">(050)</text>
<text transform="translate(944.9,817.5) rotate(-90) scale(1,1.01)" x="-78.2 -54.4 -18.6 20.1 55.9" y="0" font-size="67" fill="#f00">(<tspan font-family="NanumGothic,Liberation Sans,sans-serif" font-size="62.1" stroke="#f00" stroke-width="1.3">1</tspan>4<tspan font-family="NanumGothic,Liberation Sans,sans-serif" font-size="62.1" stroke="#f00" stroke-width="1.3">1</tspan>)</text>
<text transform="translate(1012.6,904.9) rotate(-90) scale(1,1.01)" x="-78.2 -55.9 -18.6 18.6 55.9" y="0" font-size="67" fill="#f00">(200)</text>
<text transform="translate(1046.7,745.2) rotate(-90) scale(1,1.01)" x="-78.2 -55.9 -18.6 20.1 55.9" y="0" font-size="67" fill="#f00">(06<tspan font-family="NanumGothic,Liberation Sans,sans-serif" font-size="62.1" stroke="#f00" stroke-width="1.3">1</tspan>)</text>
<text transform="translate(997.0,1086.4) rotate(-90) scale(1,1.01)" x="-78.2 -55.9 -18.6 18.6 55.9" y="0" font-size="67" fill="#00f">(200)</text>
<text transform="translate(1108.4,921.0) rotate(-90) scale(1,1.01)" x="-78.2 -55.9 -18.6 18.6 55.9" y="0" font-size="67" fill="#f00">(002)</text>
<text transform="translate(1138.2,1073.2) rotate(-90) scale(1,1.01)" x="-78.2 -55.9 -18.6 18.6 55.9" y="0" font-size="67" fill="#f00">(230)</text>
<text transform="translate(1189.9,887.1) rotate(-90) scale(1,1.01)" x="-78.2 -55.9 -17.2 20.1 55.9" y="0" font-size="67" fill="#f00">(2<tspan font-family="NanumGothic,Liberation Sans,sans-serif" font-size="62.1" stroke="#f00" stroke-width="1.3">1</tspan><tspan font-family="NanumGothic,Liberation Sans,sans-serif" font-size="62.1" stroke="#f00" stroke-width="1.3">1</tspan>)</text>
<text transform="translate(1204.2,732.2) rotate(-90) scale(1,1.01)" x="-78.2 -55.9 -18.6 20.1 55.9" y="0" font-size="67" fill="#f00">(22<tspan font-family="NanumGothic,Liberation Sans,sans-serif" font-size="62.1" stroke="#f00" stroke-width="1.3">1</tspan>)</text>
<text transform="translate(1214.2,486.5) rotate(-90) scale(1,1.01)" x="-78.2 -54.4 -17.2 18.6 55.9" y="0" font-size="67" fill="#f00">(<tspan font-family="NanumGothic,Liberation Sans,sans-serif" font-size="62.1" stroke="#f00" stroke-width="1.3">1</tspan><tspan font-family="NanumGothic,Liberation Sans,sans-serif" font-size="62.1" stroke="#f00" stroke-width="1.3">1</tspan>2)</text>
<text transform="translate(1269.9,642.6) rotate(-90) scale(1,1.01)" x="-78.2 -54.4 -18.6 18.6 55.9" y="0" font-size="67" fill="#f00">(<tspan font-family="NanumGothic,Liberation Sans,sans-serif" font-size="62.1" stroke="#f00" stroke-width="1.3">1</tspan>22)</text>
<text transform="translate(1341.9,918.0) rotate(-90) scale(1,1.01)" x="-78.2 -55.9 -18.6 20.1 55.9" y="0" font-size="67" fill="#f00">(08<tspan font-family="NanumGothic,Liberation Sans,sans-serif" font-size="62.1" stroke="#f00" stroke-width="1.3">1</tspan>)</text>
<text transform="translate(1314.1,1078.2) rotate(-90) scale(1,1.01)" x="-78.2 -54.4 -18.6 20.1 55.9" y="0" font-size="67" fill="#f00">(<tspan font-family="NanumGothic,Liberation Sans,sans-serif" font-size="62.1" stroke="#f00" stroke-width="1.3">1</tspan>7<tspan font-family="NanumGothic,Liberation Sans,sans-serif" font-size="62.1" stroke="#f00" stroke-width="1.3">1</tspan>)</text>
<text transform="translate(1453.6,1103.9) rotate(-90) scale(1,1.01)" x="-78.2 -55.9 -18.6 18.6 55.9" y="0" font-size="67" fill="#00f">(220)</text>
<text transform="translate(1525.2,1028.4) rotate(-90) scale(1,1.01)" x="-78.2 -55.9 -18.6 20.1 55.9" y="0" font-size="67" fill="#f00">(26<tspan font-family="NanumGothic,Liberation Sans,sans-serif" font-size="62.1" stroke="#f00" stroke-width="1.3">1</tspan>)</text>
<text transform="translate(1627.2,1080.2) rotate(-90) scale(1,1.01)" x="-78.2 -55.9 -18.6 18.6 55.9" y="0" font-size="67" fill="#f00">(232)</text>
</svg>
</body></html>
